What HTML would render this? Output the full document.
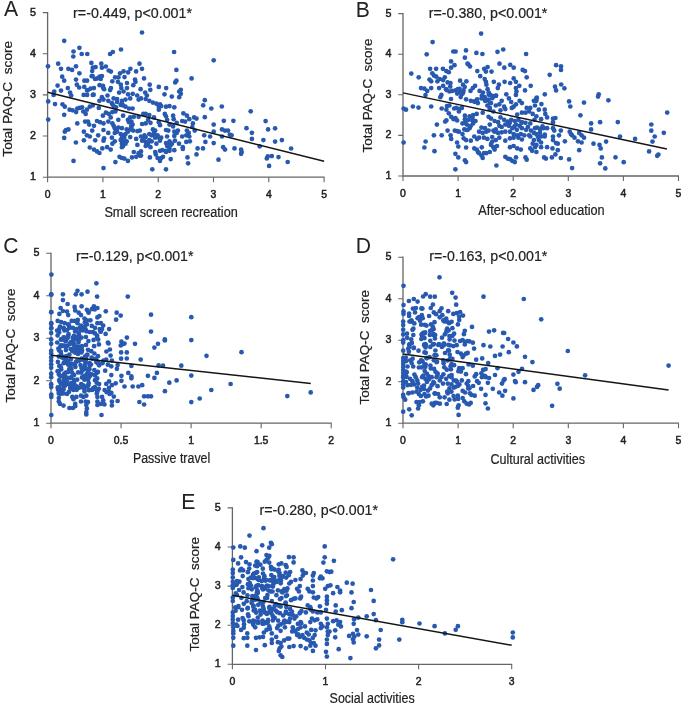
<!DOCTYPE html>
<html><head><meta charset="utf-8"><style>
html,body{margin:0;padding:0;background:#fff;}
svg{display:block;font-family:"Liberation Sans", sans-serif;will-change:transform;}
</style></head><body>
<svg width="685" height="705" viewBox="0 0 685 705">
<rect width="685" height="705" fill="#fff"/>
<g fill="#222"><path d="M47.60 12.00V177.70M47.10 177.20H324.60" stroke="#666" stroke-width="1.3" fill="none"/>
<path d="M42.80 177.20H47.60M42.80 136.05H47.60M42.80 94.90H47.60M42.80 53.75H47.60M42.80 12.60H47.60M47.60 177.20V182.20M102.90 177.20V182.20M158.20 177.20V182.20M213.50 177.20V182.20M268.80 177.20V182.20M324.10 177.20V182.20" stroke="#666" stroke-width="1.1" fill="none"/>
<text transform="translate(36.00 180.10) scale(0.95 1)" text-anchor="end" font-size="11.3" stroke="#222" stroke-width="0.5">1</text>
<text transform="translate(36.00 138.95) scale(0.95 1)" text-anchor="end" font-size="11.3" stroke="#222" stroke-width="0.5">2</text>
<text transform="translate(36.00 97.80) scale(0.95 1)" text-anchor="end" font-size="11.3" stroke="#222" stroke-width="0.5">3</text>
<text transform="translate(36.00 56.65) scale(0.95 1)" text-anchor="end" font-size="11.3" stroke="#222" stroke-width="0.5">4</text>
<text transform="translate(36.00 15.50) scale(0.95 1)" text-anchor="end" font-size="11.3" stroke="#222" stroke-width="0.5">5</text>
<text transform="translate(47.60 197.70) scale(0.95 1)" text-anchor="middle" font-size="11" stroke="#222" stroke-width="0.5">0</text>
<text transform="translate(102.90 197.70) scale(0.95 1)" text-anchor="middle" font-size="11" stroke="#222" stroke-width="0.5">1</text>
<text transform="translate(158.20 197.70) scale(0.95 1)" text-anchor="middle" font-size="11" stroke="#222" stroke-width="0.5">2</text>
<text transform="translate(213.50 197.70) scale(0.95 1)" text-anchor="middle" font-size="11" stroke="#222" stroke-width="0.5">3</text>
<text transform="translate(268.80 197.70) scale(0.95 1)" text-anchor="middle" font-size="11" stroke="#222" stroke-width="0.5">4</text>
<text transform="translate(324.10 197.70) scale(0.95 1)" text-anchor="middle" font-size="11" stroke="#222" stroke-width="0.5">5</text>
<circle fill="#2759b0" cx="64.2" cy="40.8" r="2.35"/>
<circle fill="#2759b0" cx="79.4" cy="47.8" r="2.35"/>
<circle fill="#2759b0" cx="73.5" cy="51.5" r="2.35"/>
<circle fill="#2759b0" cx="73.3" cy="56.5" r="2.35"/>
<circle fill="#2759b0" cx="81.7" cy="54.0" r="2.35"/>
<circle fill="#2759b0" cx="87.3" cy="54.0" r="2.35"/>
<circle fill="#2759b0" cx="110.1" cy="54.0" r="2.35"/>
<circle fill="#2759b0" cx="48.0" cy="66.3" r="2.35"/>
<circle fill="#2759b0" cx="58.2" cy="63.7" r="2.35"/>
<circle fill="#2759b0" cx="61.0" cy="68.8" r="2.35"/>
<circle fill="#2759b0" cx="68.4" cy="68.8" r="2.35"/>
<circle fill="#2759b0" cx="72.1" cy="69.9" r="2.35"/>
<circle fill="#2759b0" cx="76.0" cy="66.3" r="2.35"/>
<circle fill="#2759b0" cx="79.4" cy="73.3" r="2.35"/>
<circle fill="#2759b0" cx="91.4" cy="62.9" r="2.35"/>
<circle fill="#2759b0" cx="92.8" cy="67.7" r="2.35"/>
<circle fill="#2759b0" cx="95.6" cy="67.1" r="2.35"/>
<circle fill="#2759b0" cx="92.2" cy="71.1" r="2.35"/>
<circle fill="#2759b0" cx="101.3" cy="63.7" r="2.35"/>
<circle fill="#2759b0" cx="101.9" cy="67.7" r="2.35"/>
<circle fill="#2759b0" cx="105.8" cy="66.5" r="2.35"/>
<circle fill="#2759b0" cx="108.7" cy="70.5" r="2.35"/>
<circle fill="#2759b0" cx="110.9" cy="71.6" r="2.35"/>
<circle fill="#2759b0" cx="62.2" cy="76.7" r="2.35"/>
<circle fill="#2759b0" cx="64.2" cy="80.7" r="2.35"/>
<circle fill="#2759b0" cx="76.0" cy="79.6" r="2.35"/>
<circle fill="#2759b0" cx="87.1" cy="80.7" r="2.35"/>
<circle fill="#2759b0" cx="91.7" cy="76.2" r="2.35"/>
<circle fill="#2759b0" cx="95.1" cy="79.0" r="2.35"/>
<circle fill="#2759b0" cx="99.6" cy="76.7" r="2.35"/>
<circle fill="#2759b0" cx="100.7" cy="79.0" r="2.35"/>
<circle fill="#2759b0" cx="57.6" cy="85.6" r="2.35"/>
<circle fill="#2759b0" cx="61.0" cy="90.6" r="2.35"/>
<circle fill="#2759b0" cx="67.8" cy="88.1" r="2.35"/>
<circle fill="#2759b0" cx="70.1" cy="92.6" r="2.35"/>
<circle fill="#2759b0" cx="71.2" cy="95.5" r="2.35"/>
<circle fill="#2759b0" cx="76.9" cy="84.7" r="2.35"/>
<circle fill="#2759b0" cx="79.2" cy="87.5" r="2.35"/>
<circle fill="#2759b0" cx="84.3" cy="86.9" r="2.35"/>
<circle fill="#2759b0" cx="87.1" cy="90.4" r="2.35"/>
<circle fill="#2759b0" cx="90.5" cy="88.7" r="2.35"/>
<circle fill="#2759b0" cx="93.9" cy="88.1" r="2.35"/>
<circle fill="#2759b0" cx="99.6" cy="85.2" r="2.35"/>
<circle fill="#2759b0" cx="103.0" cy="85.8" r="2.35"/>
<circle fill="#2759b0" cx="104.1" cy="89.2" r="2.35"/>
<circle fill="#2759b0" cx="110.9" cy="88.1" r="2.35"/>
<circle fill="#2759b0" cx="54.2" cy="91.5" r="2.35"/>
<circle fill="#2759b0" cx="53.6" cy="94.9" r="2.35"/>
<circle fill="#2759b0" cx="83.7" cy="94.9" r="2.35"/>
<circle fill="#2759b0" cx="87.1" cy="94.9" r="2.35"/>
<circle fill="#2759b0" cx="92.8" cy="94.9" r="2.35"/>
<circle fill="#2759b0" cx="101.9" cy="97.2" r="2.35"/>
<circle fill="#2759b0" cx="107.5" cy="95.5" r="2.35"/>
<circle fill="#2759b0" cx="142.0" cy="32.5" r="2.35"/>
<circle fill="#2759b0" cx="121.0" cy="49.5" r="2.35"/>
<circle fill="#2759b0" cx="112.8" cy="52.0" r="2.35"/>
<circle fill="#2759b0" cx="174.1" cy="52.0" r="2.35"/>
<circle fill="#2759b0" cx="139.5" cy="63.7" r="2.35"/>
<circle fill="#2759b0" cx="142.0" cy="68.8" r="2.35"/>
<circle fill="#2759b0" cx="130.4" cy="68.8" r="2.35"/>
<circle fill="#2759b0" cx="136.1" cy="71.4" r="2.35"/>
<circle fill="#2759b0" cx="128.1" cy="72.4" r="2.35"/>
<circle fill="#2759b0" cx="123.6" cy="71.3" r="2.35"/>
<circle fill="#2759b0" cx="120.0" cy="73.3" r="2.35"/>
<circle fill="#2759b0" cx="115.1" cy="77.3" r="2.35"/>
<circle fill="#2759b0" cx="118.5" cy="77.3" r="2.35"/>
<circle fill="#2759b0" cx="124.5" cy="77.1" r="2.35"/>
<circle fill="#2759b0" cx="112.3" cy="81.3" r="2.35"/>
<circle fill="#2759b0" cx="117.9" cy="81.8" r="2.35"/>
<circle fill="#2759b0" cx="120.8" cy="84.7" r="2.35"/>
<circle fill="#2759b0" cx="127.0" cy="83.0" r="2.35"/>
<circle fill="#2759b0" cx="135.0" cy="79.6" r="2.35"/>
<circle fill="#2759b0" cx="135.5" cy="81.8" r="2.35"/>
<circle fill="#2759b0" cx="133.3" cy="85.2" r="2.35"/>
<circle fill="#2759b0" cx="144.0" cy="78.4" r="2.35"/>
<circle fill="#2759b0" cx="149.7" cy="84.7" r="2.35"/>
<circle fill="#2759b0" cx="121.3" cy="88.1" r="2.35"/>
<circle fill="#2759b0" cx="127.0" cy="88.1" r="2.35"/>
<circle fill="#2759b0" cx="140.6" cy="89.2" r="2.35"/>
<circle fill="#2759b0" cx="150.3" cy="89.8" r="2.35"/>
<circle fill="#2759b0" cx="158.8" cy="86.9" r="2.35"/>
<circle fill="#2759b0" cx="166.2" cy="88.1" r="2.35"/>
<circle fill="#2759b0" cx="176.4" cy="69.9" r="2.35"/>
<circle fill="#2759b0" cx="176.4" cy="80.7" r="2.35"/>
<circle fill="#2759b0" cx="175.2" cy="82.4" r="2.35"/>
<circle fill="#2759b0" cx="119.1" cy="92.6" r="2.35"/>
<circle fill="#2759b0" cx="123.6" cy="91.5" r="2.35"/>
<circle fill="#2759b0" cx="128.1" cy="94.3" r="2.35"/>
<circle fill="#2759b0" cx="132.7" cy="93.8" r="2.35"/>
<circle fill="#2759b0" cx="137.2" cy="95.5" r="2.35"/>
<circle fill="#2759b0" cx="145.2" cy="92.6" r="2.35"/>
<circle fill="#2759b0" cx="146.9" cy="95.5" r="2.35"/>
<circle fill="#2759b0" cx="164.5" cy="94.3" r="2.35"/>
<circle fill="#2759b0" cx="171.8" cy="96.6" r="2.35"/>
<circle fill="#2759b0" cx="179.2" cy="91.5" r="2.35"/>
<circle fill="#2759b0" cx="179.2" cy="97.2" r="2.35"/>
<circle fill="#2759b0" cx="213.7" cy="60.3" r="2.35"/>
<circle fill="#2759b0" cx="191.6" cy="78.4" r="2.35"/>
<circle fill="#2759b0" cx="180.8" cy="89.8" r="2.35"/>
<circle fill="#2759b0" cx="180.8" cy="93.8" r="2.35"/>
<circle fill="#2759b0" cx="48.2" cy="101.4" r="2.35"/>
<circle fill="#2759b0" cx="55.0" cy="104.1" r="2.35"/>
<circle fill="#2759b0" cx="62.5" cy="104.3" r="2.35"/>
<circle fill="#2759b0" cx="64.8" cy="106.7" r="2.35"/>
<circle fill="#2759b0" cx="69.6" cy="109.7" r="2.35"/>
<circle fill="#2759b0" cx="72.6" cy="110.3" r="2.35"/>
<circle fill="#2759b0" cx="77.3" cy="108.5" r="2.35"/>
<circle fill="#2759b0" cx="79.7" cy="107.9" r="2.35"/>
<circle fill="#2759b0" cx="82.1" cy="107.3" r="2.35"/>
<circle fill="#2759b0" cx="76.1" cy="112.1" r="2.35"/>
<circle fill="#2759b0" cx="83.3" cy="111.5" r="2.35"/>
<circle fill="#2759b0" cx="85.7" cy="113.9" r="2.35"/>
<circle fill="#2759b0" cx="86.9" cy="109.7" r="2.35"/>
<circle fill="#2759b0" cx="89.8" cy="106.7" r="2.35"/>
<circle fill="#2759b0" cx="92.8" cy="105.5" r="2.35"/>
<circle fill="#2759b0" cx="98.8" cy="107.9" r="2.35"/>
<circle fill="#2759b0" cx="99.4" cy="100.8" r="2.35"/>
<circle fill="#2759b0" cx="103.5" cy="99.6" r="2.35"/>
<circle fill="#2759b0" cx="108.3" cy="100.8" r="2.35"/>
<circle fill="#2759b0" cx="111.9" cy="103.2" r="2.35"/>
<circle fill="#2759b0" cx="64.2" cy="114.8" r="2.35"/>
<circle fill="#2759b0" cx="48.2" cy="119.6" r="2.35"/>
<circle fill="#2759b0" cx="77.3" cy="123.4" r="2.35"/>
<circle fill="#2759b0" cx="85.1" cy="121.6" r="2.35"/>
<circle fill="#2759b0" cx="88.0" cy="121.6" r="2.35"/>
<circle fill="#2759b0" cx="89.2" cy="124.6" r="2.35"/>
<circle fill="#2759b0" cx="94.0" cy="125.8" r="2.35"/>
<circle fill="#2759b0" cx="97.0" cy="121.0" r="2.35"/>
<circle fill="#2759b0" cx="100.0" cy="122.2" r="2.35"/>
<circle fill="#2759b0" cx="103.5" cy="123.4" r="2.35"/>
<circle fill="#2759b0" cx="102.9" cy="115.7" r="2.35"/>
<circle fill="#2759b0" cx="105.9" cy="112.7" r="2.35"/>
<circle fill="#2759b0" cx="108.9" cy="113.9" r="2.35"/>
<circle fill="#2759b0" cx="110.7" cy="117.4" r="2.35"/>
<circle fill="#2759b0" cx="108.3" cy="121.6" r="2.35"/>
<circle fill="#2759b0" cx="66.0" cy="130.0" r="2.35"/>
<circle fill="#2759b0" cx="68.4" cy="129.4" r="2.35"/>
<circle fill="#2759b0" cx="64.8" cy="131.7" r="2.35"/>
<circle fill="#2759b0" cx="83.9" cy="131.7" r="2.35"/>
<circle fill="#2759b0" cx="86.9" cy="135.3" r="2.35"/>
<circle fill="#2759b0" cx="89.8" cy="136.5" r="2.35"/>
<circle fill="#2759b0" cx="92.2" cy="130.6" r="2.35"/>
<circle fill="#2759b0" cx="98.2" cy="135.3" r="2.35"/>
<circle fill="#2759b0" cx="103.5" cy="130.0" r="2.35"/>
<circle fill="#2759b0" cx="104.1" cy="138.3" r="2.35"/>
<circle fill="#2759b0" cx="108.3" cy="132.9" r="2.35"/>
<circle fill="#2759b0" cx="111.9" cy="137.7" r="2.35"/>
<circle fill="#2759b0" cx="64.2" cy="137.9" r="2.35"/>
<circle fill="#2759b0" cx="83.9" cy="140.3" r="2.35"/>
<circle fill="#2759b0" cx="95.2" cy="140.3" r="2.35"/>
<circle fill="#2759b0" cx="103.5" cy="140.7" r="2.35"/>
<circle fill="#2759b0" cx="75.9" cy="142.5" r="2.35"/>
<circle fill="#2759b0" cx="89.8" cy="147.5" r="2.35"/>
<circle fill="#2759b0" cx="94.0" cy="149.6" r="2.35"/>
<circle fill="#2759b0" cx="97.0" cy="151.4" r="2.35"/>
<circle fill="#2759b0" cx="99.4" cy="153.0" r="2.35"/>
<circle fill="#2759b0" cx="102.3" cy="148.4" r="2.35"/>
<circle fill="#2759b0" cx="107.1" cy="147.2" r="2.35"/>
<circle fill="#2759b0" cx="110.7" cy="149.6" r="2.35"/>
<circle fill="#2759b0" cx="73.5" cy="160.9" r="2.35"/>
<circle fill="#2759b0" cx="103.5" cy="168.1" r="2.35"/>
<circle fill="#2759b0" cx="113.6" cy="98.4" r="2.35"/>
<circle fill="#2759b0" cx="117.1" cy="99.0" r="2.35"/>
<circle fill="#2759b0" cx="121.9" cy="100.8" r="2.35"/>
<circle fill="#2759b0" cx="125.5" cy="99.6" r="2.35"/>
<circle fill="#2759b0" cx="130.2" cy="98.4" r="2.35"/>
<circle fill="#2759b0" cx="138.6" cy="99.6" r="2.35"/>
<circle fill="#2759b0" cx="141.0" cy="98.4" r="2.35"/>
<circle fill="#2759b0" cx="145.7" cy="99.0" r="2.35"/>
<circle fill="#2759b0" cx="149.3" cy="100.8" r="2.35"/>
<circle fill="#2759b0" cx="152.9" cy="102.6" r="2.35"/>
<circle fill="#2759b0" cx="156.4" cy="103.7" r="2.35"/>
<circle fill="#2759b0" cx="160.0" cy="104.3" r="2.35"/>
<circle fill="#2759b0" cx="112.4" cy="104.3" r="2.35"/>
<circle fill="#2759b0" cx="113.6" cy="106.1" r="2.35"/>
<circle fill="#2759b0" cx="116.0" cy="107.3" r="2.35"/>
<circle fill="#2759b0" cx="120.7" cy="104.9" r="2.35"/>
<circle fill="#2759b0" cx="123.1" cy="105.5" r="2.35"/>
<circle fill="#2759b0" cx="125.5" cy="106.7" r="2.35"/>
<circle fill="#2759b0" cx="129.0" cy="108.5" r="2.35"/>
<circle fill="#2759b0" cx="132.6" cy="108.5" r="2.35"/>
<circle fill="#2759b0" cx="158.8" cy="106.7" r="2.35"/>
<circle fill="#2759b0" cx="161.2" cy="106.1" r="2.35"/>
<circle fill="#2759b0" cx="166.0" cy="106.7" r="2.35"/>
<circle fill="#2759b0" cx="169.5" cy="106.1" r="2.35"/>
<circle fill="#2759b0" cx="174.3" cy="107.3" r="2.35"/>
<circle fill="#2759b0" cx="158.8" cy="109.7" r="2.35"/>
<circle fill="#2759b0" cx="112.4" cy="112.1" r="2.35"/>
<circle fill="#2759b0" cx="115.4" cy="111.5" r="2.35"/>
<circle fill="#2759b0" cx="123.1" cy="115.7" r="2.35"/>
<circle fill="#2759b0" cx="130.2" cy="117.4" r="2.35"/>
<circle fill="#2759b0" cx="133.8" cy="116.8" r="2.35"/>
<circle fill="#2759b0" cx="138.6" cy="116.8" r="2.35"/>
<circle fill="#2759b0" cx="143.3" cy="113.9" r="2.35"/>
<circle fill="#2759b0" cx="145.7" cy="113.9" r="2.35"/>
<circle fill="#2759b0" cx="149.3" cy="115.1" r="2.35"/>
<circle fill="#2759b0" cx="154.0" cy="117.4" r="2.35"/>
<circle fill="#2759b0" cx="164.8" cy="113.9" r="2.35"/>
<circle fill="#2759b0" cx="166.0" cy="116.3" r="2.35"/>
<circle fill="#2759b0" cx="173.1" cy="115.7" r="2.35"/>
<circle fill="#2759b0" cx="173.7" cy="119.2" r="2.35"/>
<circle fill="#2759b0" cx="118.3" cy="119.8" r="2.35"/>
<circle fill="#2759b0" cx="127.9" cy="119.8" r="2.35"/>
<circle fill="#2759b0" cx="131.4" cy="121.6" r="2.35"/>
<circle fill="#2759b0" cx="132.6" cy="124.6" r="2.35"/>
<circle fill="#2759b0" cx="142.1" cy="124.0" r="2.35"/>
<circle fill="#2759b0" cx="145.7" cy="123.4" r="2.35"/>
<circle fill="#2759b0" cx="148.1" cy="119.8" r="2.35"/>
<circle fill="#2759b0" cx="150.5" cy="122.8" r="2.35"/>
<circle fill="#2759b0" cx="158.8" cy="122.2" r="2.35"/>
<circle fill="#2759b0" cx="160.0" cy="125.2" r="2.35"/>
<circle fill="#2759b0" cx="169.5" cy="124.6" r="2.35"/>
<circle fill="#2759b0" cx="173.1" cy="126.4" r="2.35"/>
<circle fill="#2759b0" cx="176.7" cy="122.8" r="2.35"/>
<circle fill="#2759b0" cx="167.1" cy="119.8" r="2.35"/>
<circle fill="#2759b0" cx="113.6" cy="125.8" r="2.35"/>
<circle fill="#2759b0" cx="114.8" cy="128.2" r="2.35"/>
<circle fill="#2759b0" cx="118.3" cy="127.6" r="2.35"/>
<circle fill="#2759b0" cx="121.9" cy="128.2" r="2.35"/>
<circle fill="#2759b0" cx="126.7" cy="129.4" r="2.35"/>
<circle fill="#2759b0" cx="131.4" cy="127.0" r="2.35"/>
<circle fill="#2759b0" cx="133.2" cy="130.6" r="2.35"/>
<circle fill="#2759b0" cx="137.4" cy="131.1" r="2.35"/>
<circle fill="#2759b0" cx="139.8" cy="130.6" r="2.35"/>
<circle fill="#2759b0" cx="152.9" cy="129.4" r="2.35"/>
<circle fill="#2759b0" cx="155.2" cy="130.6" r="2.35"/>
<circle fill="#2759b0" cx="166.0" cy="130.0" r="2.35"/>
<circle fill="#2759b0" cx="168.3" cy="130.6" r="2.35"/>
<circle fill="#2759b0" cx="174.3" cy="131.7" r="2.35"/>
<circle fill="#2759b0" cx="177.9" cy="130.6" r="2.35"/>
<circle fill="#2759b0" cx="114.8" cy="132.9" r="2.35"/>
<circle fill="#2759b0" cx="120.7" cy="134.1" r="2.35"/>
<circle fill="#2759b0" cx="123.1" cy="135.3" r="2.35"/>
<circle fill="#2759b0" cx="125.5" cy="134.1" r="2.35"/>
<circle fill="#2759b0" cx="130.2" cy="137.1" r="2.35"/>
<circle fill="#2759b0" cx="136.2" cy="138.9" r="2.35"/>
<circle fill="#2759b0" cx="141.0" cy="136.5" r="2.35"/>
<circle fill="#2759b0" cx="145.7" cy="137.1" r="2.35"/>
<circle fill="#2759b0" cx="149.3" cy="134.1" r="2.35"/>
<circle fill="#2759b0" cx="151.7" cy="135.3" r="2.35"/>
<circle fill="#2759b0" cx="155.2" cy="135.3" r="2.35"/>
<circle fill="#2759b0" cx="157.6" cy="137.1" r="2.35"/>
<circle fill="#2759b0" cx="161.2" cy="137.7" r="2.35"/>
<circle fill="#2759b0" cx="167.1" cy="136.5" r="2.35"/>
<circle fill="#2759b0" cx="174.3" cy="135.9" r="2.35"/>
<circle fill="#2759b0" cx="176.7" cy="132.9" r="2.35"/>
<circle fill="#2759b0" cx="114.8" cy="141.3" r="2.35"/>
<circle fill="#2759b0" cx="112.4" cy="143.7" r="2.35"/>
<circle fill="#2759b0" cx="120.7" cy="140.1" r="2.35"/>
<circle fill="#2759b0" cx="124.3" cy="141.3" r="2.35"/>
<circle fill="#2759b0" cx="126.7" cy="141.3" r="2.35"/>
<circle fill="#2759b0" cx="121.9" cy="143.7" r="2.35"/>
<circle fill="#2759b0" cx="137.4" cy="144.9" r="2.35"/>
<circle fill="#2759b0" cx="142.1" cy="140.7" r="2.35"/>
<circle fill="#2759b0" cx="145.7" cy="141.9" r="2.35"/>
<circle fill="#2759b0" cx="148.1" cy="143.7" r="2.35"/>
<circle fill="#2759b0" cx="151.7" cy="141.3" r="2.35"/>
<circle fill="#2759b0" cx="156.4" cy="143.7" r="2.35"/>
<circle fill="#2759b0" cx="160.0" cy="140.7" r="2.35"/>
<circle fill="#2759b0" cx="166.0" cy="143.1" r="2.35"/>
<circle fill="#2759b0" cx="169.5" cy="141.3" r="2.35"/>
<circle fill="#2759b0" cx="170.7" cy="144.9" r="2.35"/>
<circle fill="#2759b0" cx="174.9" cy="140.7" r="2.35"/>
<circle fill="#2759b0" cx="179.0" cy="143.7" r="2.35"/>
<circle fill="#2759b0" cx="121.9" cy="147.2" r="2.35"/>
<circle fill="#2759b0" cx="145.7" cy="146.0" r="2.35"/>
<circle fill="#2759b0" cx="150.5" cy="147.2" r="2.35"/>
<circle fill="#2759b0" cx="155.2" cy="152.0" r="2.35"/>
<circle fill="#2759b0" cx="160.0" cy="150.8" r="2.35"/>
<circle fill="#2759b0" cx="162.4" cy="150.2" r="2.35"/>
<circle fill="#2759b0" cx="166.0" cy="150.8" r="2.35"/>
<circle fill="#2759b0" cx="169.5" cy="148.4" r="2.35"/>
<circle fill="#2759b0" cx="174.3" cy="150.2" r="2.35"/>
<circle fill="#2759b0" cx="133.8" cy="152.0" r="2.35"/>
<circle fill="#2759b0" cx="138.6" cy="153.2" r="2.35"/>
<circle fill="#2759b0" cx="141.0" cy="151.4" r="2.35"/>
<circle fill="#2759b0" cx="139.8" cy="155.6" r="2.35"/>
<circle fill="#2759b0" cx="119.5" cy="156.8" r="2.35"/>
<circle fill="#2759b0" cx="121.9" cy="158.0" r="2.35"/>
<circle fill="#2759b0" cx="124.3" cy="158.6" r="2.35"/>
<circle fill="#2759b0" cx="132.0" cy="157.4" r="2.35"/>
<circle fill="#2759b0" cx="136.2" cy="156.8" r="2.35"/>
<circle fill="#2759b0" cx="141.0" cy="155.6" r="2.35"/>
<circle fill="#2759b0" cx="149.9" cy="157.4" r="2.35"/>
<circle fill="#2759b0" cx="155.8" cy="154.4" r="2.35"/>
<circle fill="#2759b0" cx="157.6" cy="158.0" r="2.35"/>
<circle fill="#2759b0" cx="161.2" cy="158.0" r="2.35"/>
<circle fill="#2759b0" cx="163.0" cy="156.8" r="2.35"/>
<circle fill="#2759b0" cx="160.0" cy="160.9" r="2.35"/>
<circle fill="#2759b0" cx="170.7" cy="159.1" r="2.35"/>
<circle fill="#2759b0" cx="115.4" cy="162.1" r="2.35"/>
<circle fill="#2759b0" cx="127.9" cy="160.9" r="2.35"/>
<circle fill="#2759b0" cx="152.3" cy="169.3" r="2.35"/>
<circle fill="#2759b0" cx="166.0" cy="169.3" r="2.35"/>
<circle fill="#2759b0" cx="204.8" cy="100.2" r="2.35"/>
<circle fill="#2759b0" cx="203.2" cy="105.3" r="2.35"/>
<circle fill="#2759b0" cx="211.3" cy="108.5" r="2.35"/>
<circle fill="#2759b0" cx="221.8" cy="106.5" r="2.35"/>
<circle fill="#2759b0" cx="183.4" cy="113.3" r="2.35"/>
<circle fill="#2759b0" cx="186.9" cy="115.7" r="2.35"/>
<circle fill="#2759b0" cx="189.3" cy="119.2" r="2.35"/>
<circle fill="#2759b0" cx="194.1" cy="117.4" r="2.35"/>
<circle fill="#2759b0" cx="196.5" cy="118.6" r="2.35"/>
<circle fill="#2759b0" cx="204.8" cy="117.2" r="2.35"/>
<circle fill="#2759b0" cx="182.2" cy="121.0" r="2.35"/>
<circle fill="#2759b0" cx="185.1" cy="121.6" r="2.35"/>
<circle fill="#2759b0" cx="192.9" cy="123.4" r="2.35"/>
<circle fill="#2759b0" cx="192.3" cy="127.0" r="2.35"/>
<circle fill="#2759b0" cx="194.7" cy="130.6" r="2.35"/>
<circle fill="#2759b0" cx="213.7" cy="124.6" r="2.35"/>
<circle fill="#2759b0" cx="223.8" cy="120.8" r="2.35"/>
<circle fill="#2759b0" cx="233.4" cy="120.8" r="2.35"/>
<circle fill="#2759b0" cx="246.5" cy="128.2" r="2.35"/>
<circle fill="#2759b0" cx="186.9" cy="130.6" r="2.35"/>
<circle fill="#2759b0" cx="188.7" cy="132.9" r="2.35"/>
<circle fill="#2759b0" cx="186.3" cy="135.3" r="2.35"/>
<circle fill="#2759b0" cx="182.2" cy="136.5" r="2.35"/>
<circle fill="#2759b0" cx="189.3" cy="136.5" r="2.35"/>
<circle fill="#2759b0" cx="189.9" cy="141.3" r="2.35"/>
<circle fill="#2759b0" cx="186.3" cy="141.9" r="2.35"/>
<circle fill="#2759b0" cx="182.8" cy="147.2" r="2.35"/>
<circle fill="#2759b0" cx="182.8" cy="149.0" r="2.35"/>
<circle fill="#2759b0" cx="204.2" cy="135.3" r="2.35"/>
<circle fill="#2759b0" cx="210.1" cy="136.5" r="2.35"/>
<circle fill="#2759b0" cx="213.7" cy="131.7" r="2.35"/>
<circle fill="#2759b0" cx="222.0" cy="129.4" r="2.35"/>
<circle fill="#2759b0" cx="225.0" cy="130.6" r="2.35"/>
<circle fill="#2759b0" cx="228.0" cy="130.6" r="2.35"/>
<circle fill="#2759b0" cx="222.0" cy="136.5" r="2.35"/>
<circle fill="#2759b0" cx="229.8" cy="134.7" r="2.35"/>
<circle fill="#2759b0" cx="231.6" cy="135.3" r="2.35"/>
<circle fill="#2759b0" cx="205.4" cy="141.9" r="2.35"/>
<circle fill="#2759b0" cx="213.7" cy="143.1" r="2.35"/>
<circle fill="#2759b0" cx="223.2" cy="147.2" r="2.35"/>
<circle fill="#2759b0" cx="225.0" cy="149.6" r="2.35"/>
<circle fill="#2759b0" cx="234.5" cy="148.4" r="2.35"/>
<circle fill="#2759b0" cx="241.1" cy="149.6" r="2.35"/>
<circle fill="#2759b0" cx="241.7" cy="152.0" r="2.35"/>
<circle fill="#2759b0" cx="241.1" cy="153.8" r="2.35"/>
<circle fill="#2759b0" cx="197.6" cy="148.4" r="2.35"/>
<circle fill="#2759b0" cx="203.0" cy="148.4" r="2.35"/>
<circle fill="#2759b0" cx="196.5" cy="154.4" r="2.35"/>
<circle fill="#2759b0" cx="187.5" cy="157.4" r="2.35"/>
<circle fill="#2759b0" cx="188.1" cy="163.3" r="2.35"/>
<circle fill="#2759b0" cx="218.5" cy="159.7" r="2.35"/>
<circle fill="#2759b0" cx="250.7" cy="111.3" r="2.35"/>
<circle fill="#2759b0" cx="265.6" cy="121.1" r="2.35"/>
<circle fill="#2759b0" cx="251.9" cy="132.8" r="2.35"/>
<circle fill="#2759b0" cx="268.1" cy="129.4" r="2.35"/>
<circle fill="#2759b0" cx="275.1" cy="128.3" r="2.35"/>
<circle fill="#2759b0" cx="251.9" cy="138.9" r="2.35"/>
<circle fill="#2759b0" cx="263.4" cy="140.1" r="2.35"/>
<circle fill="#2759b0" cx="275.1" cy="141.6" r="2.35"/>
<circle fill="#2759b0" cx="281.9" cy="140.1" r="2.35"/>
<circle fill="#2759b0" cx="259.7" cy="146.3" r="2.35"/>
<circle fill="#2759b0" cx="291.1" cy="148.5" r="2.35"/>
<circle fill="#2759b0" cx="267.8" cy="156.3" r="2.35"/>
<circle fill="#2759b0" cx="271.8" cy="156.1" r="2.35"/>
<circle fill="#2759b0" cx="266.8" cy="158.5" r="2.35"/>
<circle fill="#2759b0" cx="278.5" cy="157.1" r="2.35"/>
<circle fill="#2759b0" cx="287.7" cy="162.0" r="2.35"/>
<circle fill="#2759b0" cx="269.1" cy="165.9" r="2.35"/>
<circle fill="#2759b0" cx="112.4" cy="123.4" r="2.35"/>
<circle fill="#2759b0" cx="116.0" cy="130.6" r="2.35"/>
<circle fill="#2759b0" cx="117.1" cy="131.7" r="2.35"/>
<circle fill="#2759b0" cx="121.9" cy="137.7" r="2.35"/>
<circle fill="#2759b0" cx="124.3" cy="137.7" r="2.35"/>
<circle fill="#2759b0" cx="125.5" cy="143.7" r="2.35"/>
<circle fill="#2759b0" cx="123.1" cy="146.0" r="2.35"/>
<circle fill="#2759b0" cx="127.9" cy="131.7" r="2.35"/>
<circle fill="#2759b0" cx="143.3" cy="138.9" r="2.35"/>
<circle fill="#2759b0" cx="146.9" cy="144.9" r="2.35"/>
<circle fill="#2759b0" cx="149.3" cy="140.1" r="2.35"/>
<circle fill="#2759b0" cx="144.5" cy="135.3" r="2.35"/>
<circle fill="#2759b0" cx="167.1" cy="146.0" r="2.35"/>
<circle fill="#2759b0" cx="169.5" cy="150.8" r="2.35"/>
<circle fill="#2759b0" cx="171.9" cy="143.7" r="2.35"/>
<circle fill="#2759b0" cx="166.0" cy="152.0" r="2.35"/>
<circle fill="#2759b0" cx="168.3" cy="144.9" r="2.35"/>
<circle fill="#2759b0" cx="154.0" cy="132.9" r="2.35"/>
<circle fill="#2759b0" cx="157.6" cy="135.3" r="2.35"/>
<circle fill="#2759b0" cx="155.2" cy="137.7" r="2.35"/>
<circle fill="#2759b0" cx="129.0" cy="122.2" r="2.35"/>
<circle fill="#2759b0" cx="131.4" cy="125.8" r="2.35"/>
<circle fill="#2759b0" cx="130.2" cy="129.4" r="2.35"/>
<circle fill="#2759b0" cx="117.1" cy="102.0" r="2.35"/>
<circle fill="#2759b0" cx="121.9" cy="103.2" r="2.35"/>
<circle fill="#2759b0" cx="92.6" cy="76.1" r="2.35"/>
<circle fill="#2759b0" cx="97.2" cy="78.4" r="2.35"/>
<circle fill="#2759b0" cx="101.9" cy="76.1" r="2.35"/>
<circle fill="#2759b0" cx="87.9" cy="90.1" r="2.35"/>
<circle fill="#2759b0" cx="93.7" cy="94.7" r="2.35"/>
<circle fill="#2759b0" cx="103.1" cy="87.7" r="2.35"/>
<circle fill="#2759b0" cx="110.1" cy="90.1" r="2.35"/>
<circle fill="#2759b0" cx="84.4" cy="80.7" r="2.35"/>
<line x1="47.60" y1="92.31" x2="324.10" y2="161.32" stroke="#151515" stroke-width="1.5"/>
<text transform="translate(4.00 15.70) scale(0.98 1)" font-size="21.6">A</text>
<text x="73.10" y="18.00" font-size="14.3" stroke="#222" stroke-width="0.2" textLength="118.90" lengthAdjust="spacingAndGlyphs">r=-0.449, p&lt;0.001*</text>
<text x="104.40" y="216.90" font-size="14" stroke="#222" stroke-width="0.2" textLength="133.40" lengthAdjust="spacingAndGlyphs" xml:space="preserve">Small screen recreation</text>
<text transform="translate(11.70 156.70) rotate(-90)" font-size="12.3" stroke="#222" stroke-width="0.2" textLength="115.90" lengthAdjust="spacingAndGlyphs" xml:space="preserve">Total PAQ-C  score</text></g>
<g fill="#222"><path d="M403.00 13.00V176.50M402.50 176.00H679.00" stroke="#666" stroke-width="1.3" fill="none"/>
<path d="M398.20 176.00H403.00M398.20 135.40H403.00M398.20 94.80H403.00M398.20 54.20H403.00M398.20 13.60H403.00M403.00 176.00V181.00M458.10 176.00V181.00M513.20 176.00V181.00M568.30 176.00V181.00M623.40 176.00V181.00M678.50 176.00V181.00" stroke="#666" stroke-width="1.1" fill="none"/>
<text transform="translate(391.40 178.90) scale(0.95 1)" text-anchor="end" font-size="11.3" stroke="#222" stroke-width="0.5">1</text>
<text transform="translate(391.40 138.30) scale(0.95 1)" text-anchor="end" font-size="11.3" stroke="#222" stroke-width="0.5">2</text>
<text transform="translate(391.40 97.70) scale(0.95 1)" text-anchor="end" font-size="11.3" stroke="#222" stroke-width="0.5">3</text>
<text transform="translate(391.40 57.10) scale(0.95 1)" text-anchor="end" font-size="11.3" stroke="#222" stroke-width="0.5">4</text>
<text transform="translate(391.40 16.50) scale(0.95 1)" text-anchor="end" font-size="11.3" stroke="#222" stroke-width="0.5">5</text>
<text transform="translate(403.00 196.50) scale(0.95 1)" text-anchor="middle" font-size="11" stroke="#222" stroke-width="0.5">0</text>
<text transform="translate(458.10 196.50) scale(0.95 1)" text-anchor="middle" font-size="11" stroke="#222" stroke-width="0.5">1</text>
<text transform="translate(513.20 196.50) scale(0.95 1)" text-anchor="middle" font-size="11" stroke="#222" stroke-width="0.5">2</text>
<text transform="translate(568.30 196.50) scale(0.95 1)" text-anchor="middle" font-size="11" stroke="#222" stroke-width="0.5">3</text>
<text transform="translate(623.40 196.50) scale(0.95 1)" text-anchor="middle" font-size="11" stroke="#222" stroke-width="0.5">4</text>
<text transform="translate(678.50 196.50) scale(0.95 1)" text-anchor="middle" font-size="11" stroke="#222" stroke-width="0.5">5</text>
<circle fill="#2759b0" cx="432.6" cy="42.1" r="2.35"/>
<circle fill="#2759b0" cx="426.7" cy="54.3" r="2.35"/>
<circle fill="#2759b0" cx="453.3" cy="51.5" r="2.35"/>
<circle fill="#2759b0" cx="455.6" cy="51.5" r="2.35"/>
<circle fill="#2759b0" cx="466.0" cy="50.4" r="2.35"/>
<circle fill="#2759b0" cx="464.9" cy="57.7" r="2.35"/>
<circle fill="#2759b0" cx="467.5" cy="63.7" r="2.35"/>
<circle fill="#2759b0" cx="451.1" cy="61.4" r="2.35"/>
<circle fill="#2759b0" cx="454.5" cy="65.2" r="2.35"/>
<circle fill="#2759b0" cx="451.1" cy="67.7" r="2.35"/>
<circle fill="#2759b0" cx="430.1" cy="68.8" r="2.35"/>
<circle fill="#2759b0" cx="436.1" cy="68.8" r="2.35"/>
<circle fill="#2759b0" cx="442.9" cy="68.8" r="2.35"/>
<circle fill="#2759b0" cx="446.3" cy="71.1" r="2.35"/>
<circle fill="#2759b0" cx="448.8" cy="72.2" r="2.35"/>
<circle fill="#2759b0" cx="411.3" cy="73.6" r="2.35"/>
<circle fill="#2759b0" cx="418.7" cy="77.3" r="2.35"/>
<circle fill="#2759b0" cx="432.3" cy="73.3" r="2.35"/>
<circle fill="#2759b0" cx="434.0" cy="75.6" r="2.35"/>
<circle fill="#2759b0" cx="436.3" cy="76.7" r="2.35"/>
<circle fill="#2759b0" cx="437.4" cy="81.3" r="2.35"/>
<circle fill="#2759b0" cx="439.7" cy="79.0" r="2.35"/>
<circle fill="#2759b0" cx="444.8" cy="77.3" r="2.35"/>
<circle fill="#2759b0" cx="443.1" cy="80.1" r="2.35"/>
<circle fill="#2759b0" cx="429.5" cy="79.6" r="2.35"/>
<circle fill="#2759b0" cx="431.2" cy="81.3" r="2.35"/>
<circle fill="#2759b0" cx="447.6" cy="82.4" r="2.35"/>
<circle fill="#2759b0" cx="450.5" cy="83.0" r="2.35"/>
<circle fill="#2759b0" cx="460.1" cy="80.7" r="2.35"/>
<circle fill="#2759b0" cx="466.4" cy="81.3" r="2.35"/>
<circle fill="#2759b0" cx="463.0" cy="84.7" r="2.35"/>
<circle fill="#2759b0" cx="464.7" cy="87.0" r="2.35"/>
<circle fill="#2759b0" cx="421.0" cy="88.1" r="2.35"/>
<circle fill="#2759b0" cx="424.4" cy="88.7" r="2.35"/>
<circle fill="#2759b0" cx="427.2" cy="90.9" r="2.35"/>
<circle fill="#2759b0" cx="431.2" cy="88.1" r="2.35"/>
<circle fill="#2759b0" cx="439.1" cy="88.1" r="2.35"/>
<circle fill="#2759b0" cx="443.1" cy="85.8" r="2.35"/>
<circle fill="#2759b0" cx="446.0" cy="89.2" r="2.35"/>
<circle fill="#2759b0" cx="449.4" cy="91.5" r="2.35"/>
<circle fill="#2759b0" cx="452.2" cy="90.9" r="2.35"/>
<circle fill="#2759b0" cx="455.6" cy="90.4" r="2.35"/>
<circle fill="#2759b0" cx="457.9" cy="89.2" r="2.35"/>
<circle fill="#2759b0" cx="460.1" cy="92.6" r="2.35"/>
<circle fill="#2759b0" cx="462.4" cy="93.8" r="2.35"/>
<circle fill="#2759b0" cx="463.5" cy="90.4" r="2.35"/>
<circle fill="#2759b0" cx="425.5" cy="95.1" r="2.35"/>
<circle fill="#2759b0" cx="441.4" cy="94.9" r="2.35"/>
<circle fill="#2759b0" cx="440.3" cy="97.2" r="2.35"/>
<circle fill="#2759b0" cx="481.1" cy="33.6" r="2.35"/>
<circle fill="#2759b0" cx="476.4" cy="52.9" r="2.35"/>
<circle fill="#2759b0" cx="482.4" cy="54.0" r="2.35"/>
<circle fill="#2759b0" cx="497.5" cy="51.8" r="2.35"/>
<circle fill="#2759b0" cx="503.2" cy="49.5" r="2.35"/>
<circle fill="#2759b0" cx="526.1" cy="54.0" r="2.35"/>
<circle fill="#2759b0" cx="468.3" cy="64.3" r="2.35"/>
<circle fill="#2759b0" cx="470.0" cy="66.5" r="2.35"/>
<circle fill="#2759b0" cx="499.5" cy="63.7" r="2.35"/>
<circle fill="#2759b0" cx="504.3" cy="67.7" r="2.35"/>
<circle fill="#2759b0" cx="510.2" cy="64.8" r="2.35"/>
<circle fill="#2759b0" cx="513.7" cy="67.7" r="2.35"/>
<circle fill="#2759b0" cx="522.7" cy="69.9" r="2.35"/>
<circle fill="#2759b0" cx="525.0" cy="71.1" r="2.35"/>
<circle fill="#2759b0" cx="526.7" cy="77.3" r="2.35"/>
<circle fill="#2759b0" cx="484.2" cy="68.8" r="2.35"/>
<circle fill="#2759b0" cx="487.6" cy="67.1" r="2.35"/>
<circle fill="#2759b0" cx="485.9" cy="71.6" r="2.35"/>
<circle fill="#2759b0" cx="491.5" cy="71.6" r="2.35"/>
<circle fill="#2759b0" cx="477.3" cy="71.1" r="2.35"/>
<circle fill="#2759b0" cx="480.2" cy="76.2" r="2.35"/>
<circle fill="#2759b0" cx="484.7" cy="79.0" r="2.35"/>
<circle fill="#2759b0" cx="485.9" cy="81.8" r="2.35"/>
<circle fill="#2759b0" cx="486.4" cy="84.7" r="2.35"/>
<circle fill="#2759b0" cx="493.8" cy="81.8" r="2.35"/>
<circle fill="#2759b0" cx="498.9" cy="84.7" r="2.35"/>
<circle fill="#2759b0" cx="497.8" cy="88.1" r="2.35"/>
<circle fill="#2759b0" cx="504.6" cy="81.8" r="2.35"/>
<circle fill="#2759b0" cx="510.2" cy="83.0" r="2.35"/>
<circle fill="#2759b0" cx="513.7" cy="78.4" r="2.35"/>
<circle fill="#2759b0" cx="515.9" cy="81.8" r="2.35"/>
<circle fill="#2759b0" cx="519.3" cy="85.8" r="2.35"/>
<circle fill="#2759b0" cx="530.7" cy="85.8" r="2.35"/>
<circle fill="#2759b0" cx="525.0" cy="90.4" r="2.35"/>
<circle fill="#2759b0" cx="475.1" cy="85.8" r="2.35"/>
<circle fill="#2759b0" cx="472.8" cy="88.1" r="2.35"/>
<circle fill="#2759b0" cx="470.5" cy="90.9" r="2.35"/>
<circle fill="#2759b0" cx="479.6" cy="90.9" r="2.35"/>
<circle fill="#2759b0" cx="483.0" cy="92.6" r="2.35"/>
<circle fill="#2759b0" cx="487.6" cy="89.2" r="2.35"/>
<circle fill="#2759b0" cx="488.7" cy="92.6" r="2.35"/>
<circle fill="#2759b0" cx="490.4" cy="94.9" r="2.35"/>
<circle fill="#2759b0" cx="481.9" cy="95.5" r="2.35"/>
<circle fill="#2759b0" cx="484.7" cy="97.2" r="2.35"/>
<circle fill="#2759b0" cx="493.2" cy="96.0" r="2.35"/>
<circle fill="#2759b0" cx="496.1" cy="95.5" r="2.35"/>
<circle fill="#2759b0" cx="506.3" cy="94.3" r="2.35"/>
<circle fill="#2759b0" cx="515.9" cy="88.1" r="2.35"/>
<circle fill="#2759b0" cx="516.5" cy="91.5" r="2.35"/>
<circle fill="#2759b0" cx="515.9" cy="94.9" r="2.35"/>
<circle fill="#2759b0" cx="556.1" cy="65.2" r="2.35"/>
<circle fill="#2759b0" cx="561.0" cy="66.3" r="2.35"/>
<circle fill="#2759b0" cx="561.0" cy="69.9" r="2.35"/>
<circle fill="#2759b0" cx="549.7" cy="74.8" r="2.35"/>
<circle fill="#2759b0" cx="555.0" cy="86.7" r="2.35"/>
<circle fill="#2759b0" cx="556.1" cy="90.4" r="2.35"/>
<circle fill="#2759b0" cx="561.2" cy="84.5" r="2.35"/>
<circle fill="#2759b0" cx="564.4" cy="88.3" r="2.35"/>
<circle fill="#2759b0" cx="544.8" cy="94.3" r="2.35"/>
<circle fill="#2759b0" cx="536.8" cy="97.7" r="2.35"/>
<circle fill="#2759b0" cx="598.7" cy="94.3" r="2.35"/>
<circle fill="#2759b0" cx="598.1" cy="96.6" r="2.35"/>
<circle fill="#2759b0" cx="403.6" cy="108.5" r="2.35"/>
<circle fill="#2759b0" cx="406.0" cy="109.7" r="2.35"/>
<circle fill="#2759b0" cx="412.9" cy="106.5" r="2.35"/>
<circle fill="#2759b0" cx="418.5" cy="107.6" r="2.35"/>
<circle fill="#2759b0" cx="431.2" cy="106.5" r="2.35"/>
<circle fill="#2759b0" cx="441.7" cy="108.5" r="2.35"/>
<circle fill="#2759b0" cx="451.0" cy="99.0" r="2.35"/>
<circle fill="#2759b0" cx="466.1" cy="99.3" r="2.35"/>
<circle fill="#2759b0" cx="447.0" cy="106.1" r="2.35"/>
<circle fill="#2759b0" cx="449.4" cy="105.5" r="2.35"/>
<circle fill="#2759b0" cx="446.4" cy="109.7" r="2.35"/>
<circle fill="#2759b0" cx="448.8" cy="113.3" r="2.35"/>
<circle fill="#2759b0" cx="451.2" cy="116.8" r="2.35"/>
<circle fill="#2759b0" cx="453.6" cy="119.2" r="2.35"/>
<circle fill="#2759b0" cx="455.4" cy="118.0" r="2.35"/>
<circle fill="#2759b0" cx="457.1" cy="120.4" r="2.35"/>
<circle fill="#2759b0" cx="454.2" cy="108.5" r="2.35"/>
<circle fill="#2759b0" cx="456.5" cy="107.9" r="2.35"/>
<circle fill="#2759b0" cx="459.5" cy="109.1" r="2.35"/>
<circle fill="#2759b0" cx="461.9" cy="107.9" r="2.35"/>
<circle fill="#2759b0" cx="458.9" cy="111.5" r="2.35"/>
<circle fill="#2759b0" cx="464.9" cy="115.7" r="2.35"/>
<circle fill="#2759b0" cx="464.9" cy="119.2" r="2.35"/>
<circle fill="#2759b0" cx="462.5" cy="123.4" r="2.35"/>
<circle fill="#2759b0" cx="466.7" cy="124.6" r="2.35"/>
<circle fill="#2759b0" cx="464.3" cy="129.4" r="2.35"/>
<circle fill="#2759b0" cx="466.7" cy="130.0" r="2.35"/>
<circle fill="#2759b0" cx="436.9" cy="124.6" r="2.35"/>
<circle fill="#2759b0" cx="445.2" cy="121.6" r="2.35"/>
<circle fill="#2759b0" cx="446.4" cy="120.4" r="2.35"/>
<circle fill="#2759b0" cx="447.6" cy="130.6" r="2.35"/>
<circle fill="#2759b0" cx="454.8" cy="130.6" r="2.35"/>
<circle fill="#2759b0" cx="457.1" cy="131.1" r="2.35"/>
<circle fill="#2759b0" cx="458.9" cy="131.7" r="2.35"/>
<circle fill="#2759b0" cx="433.9" cy="135.3" r="2.35"/>
<circle fill="#2759b0" cx="441.7" cy="135.3" r="2.35"/>
<circle fill="#2759b0" cx="450.6" cy="135.3" r="2.35"/>
<circle fill="#2759b0" cx="451.2" cy="138.9" r="2.35"/>
<circle fill="#2759b0" cx="462.5" cy="134.1" r="2.35"/>
<circle fill="#2759b0" cx="463.7" cy="138.3" r="2.35"/>
<circle fill="#2759b0" cx="466.1" cy="140.1" r="2.35"/>
<circle fill="#2759b0" cx="403.6" cy="142.5" r="2.35"/>
<circle fill="#2759b0" cx="425.6" cy="141.5" r="2.35"/>
<circle fill="#2759b0" cx="424.4" cy="147.5" r="2.35"/>
<circle fill="#2759b0" cx="434.5" cy="151.2" r="2.35"/>
<circle fill="#2759b0" cx="457.1" cy="142.5" r="2.35"/>
<circle fill="#2759b0" cx="458.3" cy="146.6" r="2.35"/>
<circle fill="#2759b0" cx="466.1" cy="147.5" r="2.35"/>
<circle fill="#2759b0" cx="455.4" cy="153.8" r="2.35"/>
<circle fill="#2759b0" cx="458.3" cy="157.4" r="2.35"/>
<circle fill="#2759b0" cx="464.9" cy="160.3" r="2.35"/>
<circle fill="#2759b0" cx="466.1" cy="162.1" r="2.35"/>
<circle fill="#2759b0" cx="455.4" cy="169.3" r="2.35"/>
<circle fill="#2759b0" cx="470.8" cy="100.8" r="2.35"/>
<circle fill="#2759b0" cx="474.3" cy="101.4" r="2.35"/>
<circle fill="#2759b0" cx="477.9" cy="103.1" r="2.35"/>
<circle fill="#2759b0" cx="481.5" cy="98.4" r="2.35"/>
<circle fill="#2759b0" cx="485.0" cy="100.8" r="2.35"/>
<circle fill="#2759b0" cx="488.6" cy="99.6" r="2.35"/>
<circle fill="#2759b0" cx="491.0" cy="103.1" r="2.35"/>
<circle fill="#2759b0" cx="495.8" cy="105.5" r="2.35"/>
<circle fill="#2759b0" cx="499.3" cy="104.3" r="2.35"/>
<circle fill="#2759b0" cx="501.7" cy="100.8" r="2.35"/>
<circle fill="#2759b0" cx="504.1" cy="106.7" r="2.35"/>
<circle fill="#2759b0" cx="508.9" cy="98.4" r="2.35"/>
<circle fill="#2759b0" cx="511.2" cy="102.0" r="2.35"/>
<circle fill="#2759b0" cx="513.6" cy="106.7" r="2.35"/>
<circle fill="#2759b0" cx="516.0" cy="104.3" r="2.35"/>
<circle fill="#2759b0" cx="519.6" cy="100.8" r="2.35"/>
<circle fill="#2759b0" cx="521.9" cy="103.1" r="2.35"/>
<circle fill="#2759b0" cx="526.7" cy="107.9" r="2.35"/>
<circle fill="#2759b0" cx="530.3" cy="107.9" r="2.35"/>
<circle fill="#2759b0" cx="533.9" cy="100.8" r="2.35"/>
<circle fill="#2759b0" cx="535.0" cy="105.5" r="2.35"/>
<circle fill="#2759b0" cx="487.4" cy="105.5" r="2.35"/>
<circle fill="#2759b0" cx="489.8" cy="107.9" r="2.35"/>
<circle fill="#2759b0" cx="469.6" cy="116.3" r="2.35"/>
<circle fill="#2759b0" cx="473.1" cy="115.1" r="2.35"/>
<circle fill="#2759b0" cx="476.7" cy="113.9" r="2.35"/>
<circle fill="#2759b0" cx="482.7" cy="112.7" r="2.35"/>
<circle fill="#2759b0" cx="489.8" cy="109.1" r="2.35"/>
<circle fill="#2759b0" cx="493.4" cy="111.5" r="2.35"/>
<circle fill="#2759b0" cx="500.5" cy="110.3" r="2.35"/>
<circle fill="#2759b0" cx="505.3" cy="109.1" r="2.35"/>
<circle fill="#2759b0" cx="511.8" cy="107.9" r="2.35"/>
<circle fill="#2759b0" cx="517.2" cy="114.5" r="2.35"/>
<circle fill="#2759b0" cx="521.9" cy="112.7" r="2.35"/>
<circle fill="#2759b0" cx="525.5" cy="112.7" r="2.35"/>
<circle fill="#2759b0" cx="529.1" cy="111.5" r="2.35"/>
<circle fill="#2759b0" cx="532.7" cy="113.9" r="2.35"/>
<circle fill="#2759b0" cx="468.4" cy="119.8" r="2.35"/>
<circle fill="#2759b0" cx="472.5" cy="118.0" r="2.35"/>
<circle fill="#2759b0" cx="475.5" cy="121.0" r="2.35"/>
<circle fill="#2759b0" cx="488.6" cy="116.8" r="2.35"/>
<circle fill="#2759b0" cx="491.0" cy="118.6" r="2.35"/>
<circle fill="#2759b0" cx="494.6" cy="121.0" r="2.35"/>
<circle fill="#2759b0" cx="498.1" cy="122.2" r="2.35"/>
<circle fill="#2759b0" cx="500.5" cy="117.4" r="2.35"/>
<circle fill="#2759b0" cx="504.1" cy="119.8" r="2.35"/>
<circle fill="#2759b0" cx="507.7" cy="121.6" r="2.35"/>
<circle fill="#2759b0" cx="511.2" cy="119.8" r="2.35"/>
<circle fill="#2759b0" cx="514.8" cy="121.0" r="2.35"/>
<circle fill="#2759b0" cx="518.4" cy="119.8" r="2.35"/>
<circle fill="#2759b0" cx="521.9" cy="122.2" r="2.35"/>
<circle fill="#2759b0" cx="525.5" cy="122.8" r="2.35"/>
<circle fill="#2759b0" cx="530.3" cy="123.4" r="2.35"/>
<circle fill="#2759b0" cx="534.5" cy="119.8" r="2.35"/>
<circle fill="#2759b0" cx="470.8" cy="125.8" r="2.35"/>
<circle fill="#2759b0" cx="473.1" cy="123.4" r="2.35"/>
<circle fill="#2759b0" cx="469.6" cy="128.2" r="2.35"/>
<circle fill="#2759b0" cx="481.5" cy="127.6" r="2.35"/>
<circle fill="#2759b0" cx="485.0" cy="128.2" r="2.35"/>
<circle fill="#2759b0" cx="489.8" cy="124.6" r="2.35"/>
<circle fill="#2759b0" cx="493.4" cy="130.6" r="2.35"/>
<circle fill="#2759b0" cx="495.8" cy="129.4" r="2.35"/>
<circle fill="#2759b0" cx="499.3" cy="125.8" r="2.35"/>
<circle fill="#2759b0" cx="501.7" cy="127.0" r="2.35"/>
<circle fill="#2759b0" cx="505.3" cy="124.6" r="2.35"/>
<circle fill="#2759b0" cx="508.9" cy="125.8" r="2.35"/>
<circle fill="#2759b0" cx="512.4" cy="128.2" r="2.35"/>
<circle fill="#2759b0" cx="516.0" cy="124.6" r="2.35"/>
<circle fill="#2759b0" cx="519.6" cy="125.8" r="2.35"/>
<circle fill="#2759b0" cx="521.9" cy="128.2" r="2.35"/>
<circle fill="#2759b0" cx="527.9" cy="127.0" r="2.35"/>
<circle fill="#2759b0" cx="530.9" cy="130.6" r="2.35"/>
<circle fill="#2759b0" cx="535.0" cy="128.2" r="2.35"/>
<circle fill="#2759b0" cx="479.1" cy="131.7" r="2.35"/>
<circle fill="#2759b0" cx="482.7" cy="132.9" r="2.35"/>
<circle fill="#2759b0" cx="486.2" cy="131.7" r="2.35"/>
<circle fill="#2759b0" cx="488.6" cy="130.6" r="2.35"/>
<circle fill="#2759b0" cx="494.6" cy="131.7" r="2.35"/>
<circle fill="#2759b0" cx="498.1" cy="132.9" r="2.35"/>
<circle fill="#2759b0" cx="501.7" cy="132.3" r="2.35"/>
<circle fill="#2759b0" cx="505.3" cy="131.7" r="2.35"/>
<circle fill="#2759b0" cx="510.0" cy="131.7" r="2.35"/>
<circle fill="#2759b0" cx="513.6" cy="134.1" r="2.35"/>
<circle fill="#2759b0" cx="517.2" cy="135.3" r="2.35"/>
<circle fill="#2759b0" cx="520.8" cy="134.1" r="2.35"/>
<circle fill="#2759b0" cx="524.3" cy="135.3" r="2.35"/>
<circle fill="#2759b0" cx="529.1" cy="135.3" r="2.35"/>
<circle fill="#2759b0" cx="533.9" cy="132.9" r="2.35"/>
<circle fill="#2759b0" cx="474.3" cy="136.5" r="2.35"/>
<circle fill="#2759b0" cx="479.1" cy="137.7" r="2.35"/>
<circle fill="#2759b0" cx="470.8" cy="140.7" r="2.35"/>
<circle fill="#2759b0" cx="483.9" cy="137.7" r="2.35"/>
<circle fill="#2759b0" cx="487.4" cy="138.9" r="2.35"/>
<circle fill="#2759b0" cx="492.2" cy="137.1" r="2.35"/>
<circle fill="#2759b0" cx="495.8" cy="140.1" r="2.35"/>
<circle fill="#2759b0" cx="499.3" cy="137.7" r="2.35"/>
<circle fill="#2759b0" cx="505.3" cy="140.7" r="2.35"/>
<circle fill="#2759b0" cx="510.0" cy="138.3" r="2.35"/>
<circle fill="#2759b0" cx="513.6" cy="137.7" r="2.35"/>
<circle fill="#2759b0" cx="518.4" cy="137.7" r="2.35"/>
<circle fill="#2759b0" cx="521.9" cy="139.5" r="2.35"/>
<circle fill="#2759b0" cx="530.3" cy="136.5" r="2.35"/>
<circle fill="#2759b0" cx="533.9" cy="140.1" r="2.35"/>
<circle fill="#2759b0" cx="532.7" cy="143.7" r="2.35"/>
<circle fill="#2759b0" cx="474.3" cy="148.4" r="2.35"/>
<circle fill="#2759b0" cx="476.7" cy="149.6" r="2.35"/>
<circle fill="#2759b0" cx="477.9" cy="152.0" r="2.35"/>
<circle fill="#2759b0" cx="491.0" cy="144.9" r="2.35"/>
<circle fill="#2759b0" cx="493.4" cy="147.2" r="2.35"/>
<circle fill="#2759b0" cx="497.0" cy="146.0" r="2.35"/>
<circle fill="#2759b0" cx="494.6" cy="149.6" r="2.35"/>
<circle fill="#2759b0" cx="510.0" cy="147.2" r="2.35"/>
<circle fill="#2759b0" cx="513.6" cy="146.0" r="2.35"/>
<circle fill="#2759b0" cx="517.2" cy="148.4" r="2.35"/>
<circle fill="#2759b0" cx="520.8" cy="149.6" r="2.35"/>
<circle fill="#2759b0" cx="530.3" cy="148.4" r="2.35"/>
<circle fill="#2759b0" cx="532.1" cy="150.8" r="2.35"/>
<circle fill="#2759b0" cx="535.0" cy="147.2" r="2.35"/>
<circle fill="#2759b0" cx="479.1" cy="153.2" r="2.35"/>
<circle fill="#2759b0" cx="481.5" cy="155.6" r="2.35"/>
<circle fill="#2759b0" cx="482.7" cy="158.0" r="2.35"/>
<circle fill="#2759b0" cx="486.2" cy="153.2" r="2.35"/>
<circle fill="#2759b0" cx="489.8" cy="152.0" r="2.35"/>
<circle fill="#2759b0" cx="505.3" cy="156.8" r="2.35"/>
<circle fill="#2759b0" cx="507.7" cy="158.6" r="2.35"/>
<circle fill="#2759b0" cx="510.0" cy="159.1" r="2.35"/>
<circle fill="#2759b0" cx="512.4" cy="160.9" r="2.35"/>
<circle fill="#2759b0" cx="514.8" cy="162.1" r="2.35"/>
<circle fill="#2759b0" cx="516.0" cy="157.4" r="2.35"/>
<circle fill="#2759b0" cx="525.5" cy="157.4" r="2.35"/>
<circle fill="#2759b0" cx="526.7" cy="159.7" r="2.35"/>
<circle fill="#2759b0" cx="496.4" cy="165.5" r="2.35"/>
<circle fill="#2759b0" cx="536.4" cy="98.4" r="2.35"/>
<circle fill="#2759b0" cx="536.4" cy="100.8" r="2.35"/>
<circle fill="#2759b0" cx="541.4" cy="104.1" r="2.35"/>
<circle fill="#2759b0" cx="569.1" cy="101.4" r="2.35"/>
<circle fill="#2759b0" cx="570.3" cy="106.5" r="2.35"/>
<circle fill="#2759b0" cx="584.0" cy="102.6" r="2.35"/>
<circle fill="#2759b0" cx="538.8" cy="109.7" r="2.35"/>
<circle fill="#2759b0" cx="544.7" cy="109.7" r="2.35"/>
<circle fill="#2759b0" cx="545.3" cy="113.9" r="2.35"/>
<circle fill="#2759b0" cx="547.1" cy="117.4" r="2.35"/>
<circle fill="#2759b0" cx="541.1" cy="119.2" r="2.35"/>
<circle fill="#2759b0" cx="536.4" cy="116.3" r="2.35"/>
<circle fill="#2759b0" cx="553.0" cy="118.6" r="2.35"/>
<circle fill="#2759b0" cx="555.4" cy="118.0" r="2.35"/>
<circle fill="#2759b0" cx="553.0" cy="122.2" r="2.35"/>
<circle fill="#2759b0" cx="580.4" cy="115.3" r="2.35"/>
<circle fill="#2759b0" cx="591.1" cy="123.4" r="2.35"/>
<circle fill="#2759b0" cx="591.1" cy="129.4" r="2.35"/>
<circle fill="#2759b0" cx="600.1" cy="122.2" r="2.35"/>
<circle fill="#2759b0" cx="537.0" cy="127.6" r="2.35"/>
<circle fill="#2759b0" cx="540.0" cy="128.8" r="2.35"/>
<circle fill="#2759b0" cx="543.5" cy="128.2" r="2.35"/>
<circle fill="#2759b0" cx="547.1" cy="128.2" r="2.35"/>
<circle fill="#2759b0" cx="553.0" cy="128.2" r="2.35"/>
<circle fill="#2759b0" cx="554.2" cy="130.6" r="2.35"/>
<circle fill="#2759b0" cx="560.8" cy="130.6" r="2.35"/>
<circle fill="#2759b0" cx="536.4" cy="134.1" r="2.35"/>
<circle fill="#2759b0" cx="540.0" cy="132.9" r="2.35"/>
<circle fill="#2759b0" cx="541.1" cy="136.5" r="2.35"/>
<circle fill="#2759b0" cx="544.7" cy="136.5" r="2.35"/>
<circle fill="#2759b0" cx="538.8" cy="140.1" r="2.35"/>
<circle fill="#2759b0" cx="541.1" cy="142.5" r="2.35"/>
<circle fill="#2759b0" cx="536.4" cy="144.9" r="2.35"/>
<circle fill="#2759b0" cx="541.1" cy="147.2" r="2.35"/>
<circle fill="#2759b0" cx="536.4" cy="152.0" r="2.35"/>
<circle fill="#2759b0" cx="553.0" cy="136.5" r="2.35"/>
<circle fill="#2759b0" cx="553.0" cy="140.1" r="2.35"/>
<circle fill="#2759b0" cx="556.0" cy="143.1" r="2.35"/>
<circle fill="#2759b0" cx="557.8" cy="143.7" r="2.35"/>
<circle fill="#2759b0" cx="559.0" cy="135.3" r="2.35"/>
<circle fill="#2759b0" cx="564.9" cy="141.3" r="2.35"/>
<circle fill="#2759b0" cx="569.7" cy="131.7" r="2.35"/>
<circle fill="#2759b0" cx="572.1" cy="135.3" r="2.35"/>
<circle fill="#2759b0" cx="574.5" cy="137.7" r="2.35"/>
<circle fill="#2759b0" cx="570.9" cy="134.1" r="2.35"/>
<circle fill="#2759b0" cx="579.2" cy="132.9" r="2.35"/>
<circle fill="#2759b0" cx="581.6" cy="135.3" r="2.35"/>
<circle fill="#2759b0" cx="584.0" cy="137.7" r="2.35"/>
<circle fill="#2759b0" cx="578.0" cy="141.3" r="2.35"/>
<circle fill="#2759b0" cx="581.6" cy="142.5" r="2.35"/>
<circle fill="#2759b0" cx="593.5" cy="143.7" r="2.35"/>
<circle fill="#2759b0" cx="599.5" cy="144.9" r="2.35"/>
<circle fill="#2759b0" cx="600.7" cy="148.4" r="2.35"/>
<circle fill="#2759b0" cx="547.1" cy="147.2" r="2.35"/>
<circle fill="#2759b0" cx="552.5" cy="148.4" r="2.35"/>
<circle fill="#2759b0" cx="557.8" cy="150.2" r="2.35"/>
<circle fill="#2759b0" cx="555.4" cy="154.4" r="2.35"/>
<circle fill="#2759b0" cx="551.9" cy="157.4" r="2.35"/>
<circle fill="#2759b0" cx="545.9" cy="158.6" r="2.35"/>
<circle fill="#2759b0" cx="544.1" cy="157.4" r="2.35"/>
<circle fill="#2759b0" cx="560.8" cy="158.0" r="2.35"/>
<circle fill="#2759b0" cx="569.1" cy="159.4" r="2.35"/>
<circle fill="#2759b0" cx="579.2" cy="150.2" r="2.35"/>
<circle fill="#2759b0" cx="572.1" cy="168.1" r="2.35"/>
<circle fill="#2759b0" cx="601.9" cy="157.4" r="2.35"/>
<circle fill="#2759b0" cx="600.1" cy="163.3" r="2.35"/>
<circle fill="#2759b0" cx="608.4" cy="100.3" r="2.35"/>
<circle fill="#2759b0" cx="667.2" cy="112.6" r="2.35"/>
<circle fill="#2759b0" cx="617.8" cy="122.1" r="2.35"/>
<circle fill="#2759b0" cx="651.3" cy="124.5" r="2.35"/>
<circle fill="#2759b0" cx="651.3" cy="130.7" r="2.35"/>
<circle fill="#2759b0" cx="663.8" cy="132.8" r="2.35"/>
<circle fill="#2759b0" cx="620.0" cy="136.5" r="2.35"/>
<circle fill="#2759b0" cx="635.1" cy="138.9" r="2.35"/>
<circle fill="#2759b0" cx="654.7" cy="136.5" r="2.35"/>
<circle fill="#2759b0" cx="652.5" cy="141.6" r="2.35"/>
<circle fill="#2759b0" cx="606.1" cy="141.6" r="2.35"/>
<circle fill="#2759b0" cx="615.5" cy="157.3" r="2.35"/>
<circle fill="#2759b0" cx="623.7" cy="162.2" r="2.35"/>
<circle fill="#2759b0" cx="605.3" cy="168.4" r="2.35"/>
<circle fill="#2759b0" cx="649.1" cy="151.4" r="2.35"/>
<circle fill="#2759b0" cx="657.2" cy="155.8" r="2.35"/>
<circle fill="#2759b0" cx="658.4" cy="154.6" r="2.35"/>
<circle fill="#2759b0" cx="459.6" cy="88.9" r="2.35"/>
<circle fill="#2759b0" cx="463.1" cy="92.4" r="2.35"/>
<circle fill="#2759b0" cx="457.2" cy="93.6" r="2.35"/>
<circle fill="#2759b0" cx="460.7" cy="97.1" r="2.35"/>
<circle fill="#2759b0" cx="488.8" cy="94.7" r="2.35"/>
<circle fill="#2759b0" cx="492.3" cy="98.2" r="2.35"/>
<circle fill="#2759b0" cx="486.4" cy="100.6" r="2.35"/>
<circle fill="#2759b0" cx="495.8" cy="95.9" r="2.35"/>
<circle fill="#2759b0" cx="489.9" cy="102.9" r="2.35"/>
<circle fill="#2759b0" cx="465.4" cy="122.8" r="2.35"/>
<circle fill="#2759b0" cx="470.1" cy="126.3" r="2.35"/>
<circle fill="#2759b0" cx="467.7" cy="129.8" r="2.35"/>
<circle fill="#2759b0" cx="472.4" cy="120.4" r="2.35"/>
<circle fill="#2759b0" cx="491.1" cy="143.8" r="2.35"/>
<circle fill="#2759b0" cx="494.6" cy="147.3" r="2.35"/>
<circle fill="#2759b0" cx="492.3" cy="141.5" r="2.35"/>
<circle fill="#2759b0" cx="540.1" cy="129.8" r="2.35"/>
<circle fill="#2759b0" cx="544.8" cy="134.5" r="2.35"/>
<circle fill="#2759b0" cx="537.8" cy="136.8" r="2.35"/>
<circle fill="#2759b0" cx="542.5" cy="126.3" r="2.35"/>
<circle fill="#2759b0" cx="509.8" cy="122.8" r="2.35"/>
<circle fill="#2759b0" cx="514.5" cy="126.3" r="2.35"/>
<circle fill="#2759b0" cx="516.8" cy="129.8" r="2.35"/>
<circle fill="#2759b0" cx="474.7" cy="101.8" r="2.35"/>
<circle fill="#2759b0" cx="477.1" cy="99.4" r="2.35"/>
<circle fill="#2759b0" cx="446.7" cy="90.1" r="2.35"/>
<circle fill="#2759b0" cx="450.2" cy="86.6" r="2.35"/>
<circle fill="#2759b0" cx="477.1" cy="139.1" r="2.35"/>
<circle fill="#2759b0" cx="481.8" cy="147.3" r="2.35"/>
<circle fill="#2759b0" cx="484.1" cy="153.1" r="2.35"/>
<circle fill="#2759b0" cx="526.1" cy="129.8" r="2.35"/>
<circle fill="#2759b0" cx="521.5" cy="122.8" r="2.35"/>
<line x1="403.00" y1="92.89" x2="666.93" y2="148.92" stroke="#151515" stroke-width="1.5"/>
<text transform="translate(355.70 16.60) scale(0.98 1)" font-size="21.6">B</text>
<text x="428.80" y="18.40" font-size="14.3" stroke="#222" stroke-width="0.2" textLength="118.60" lengthAdjust="spacingAndGlyphs">r=-0.380, p&lt;0.001*</text>
<text x="478.30" y="215.00" font-size="14" stroke="#222" stroke-width="0.2" textLength="126.40" lengthAdjust="spacingAndGlyphs" xml:space="preserve">After-school education</text>
<text transform="translate(372.00 152.40) rotate(-90)" font-size="12.3" stroke="#222" stroke-width="0.2" textLength="113.80" lengthAdjust="spacingAndGlyphs" xml:space="preserve">Total PAQ-C  score</text></g>
<g fill="#222"><path d="M51.00 252.70V423.70M50.50 423.20H331.70" stroke="#666" stroke-width="1.3" fill="none"/>
<path d="M46.20 423.20H51.00M46.20 380.72H51.00M46.20 338.25H51.00M46.20 295.77H51.00M46.20 253.30H51.00M51.00 423.20V428.20M121.05 423.20V428.20M191.10 423.20V428.20M261.15 423.20V428.20M331.20 423.20V428.20" stroke="#666" stroke-width="1.1" fill="none"/>
<text transform="translate(39.40 426.10) scale(0.95 1)" text-anchor="end" font-size="11.3" stroke="#222" stroke-width="0.5">1</text>
<text transform="translate(39.40 383.62) scale(0.95 1)" text-anchor="end" font-size="11.3" stroke="#222" stroke-width="0.5">2</text>
<text transform="translate(39.40 341.15) scale(0.95 1)" text-anchor="end" font-size="11.3" stroke="#222" stroke-width="0.5">3</text>
<text transform="translate(39.40 298.67) scale(0.95 1)" text-anchor="end" font-size="11.3" stroke="#222" stroke-width="0.5">4</text>
<text transform="translate(39.40 256.20) scale(0.95 1)" text-anchor="end" font-size="11.3" stroke="#222" stroke-width="0.5">5</text>
<text transform="translate(51.00 443.70) scale(0.95 1)" text-anchor="middle" font-size="11" stroke="#222" stroke-width="0.5">0</text>
<text transform="translate(121.05 443.70) scale(0.95 1)" text-anchor="middle" font-size="11" stroke="#222" stroke-width="0.5">0.5</text>
<text transform="translate(191.10 443.70) scale(0.95 1)" text-anchor="middle" font-size="11" stroke="#222" stroke-width="0.5">1</text>
<text transform="translate(261.15 443.70) scale(0.95 1)" text-anchor="middle" font-size="11" stroke="#222" stroke-width="0.5">1.5</text>
<text transform="translate(331.20 443.70) scale(0.95 1)" text-anchor="middle" font-size="11" stroke="#222" stroke-width="0.5">2</text>
<circle fill="#2759b0" cx="51.4" cy="274.6" r="2.35"/>
<circle fill="#2759b0" cx="96.4" cy="283.3" r="2.35"/>
<circle fill="#2759b0" cx="51.3" cy="294.3" r="2.35"/>
<circle fill="#2759b0" cx="62.9" cy="294.3" r="2.35"/>
<circle fill="#2759b0" cx="77.5" cy="290.8" r="2.35"/>
<circle fill="#2759b0" cx="75.8" cy="294.3" r="2.35"/>
<circle fill="#2759b0" cx="81.6" cy="294.3" r="2.35"/>
<circle fill="#2759b0" cx="87.5" cy="291.7" r="2.35"/>
<circle fill="#2759b0" cx="97.1" cy="296.6" r="2.35"/>
<circle fill="#2759b0" cx="62.9" cy="300.1" r="2.35"/>
<circle fill="#2759b0" cx="67.6" cy="304.0" r="2.35"/>
<circle fill="#2759b0" cx="51.3" cy="312.1" r="2.35"/>
<circle fill="#2759b0" cx="60.6" cy="308.0" r="2.35"/>
<circle fill="#2759b0" cx="62.9" cy="311.0" r="2.35"/>
<circle fill="#2759b0" cx="59.4" cy="313.9" r="2.35"/>
<circle fill="#2759b0" cx="67.0" cy="311.6" r="2.35"/>
<circle fill="#2759b0" cx="68.2" cy="315.1" r="2.35"/>
<circle fill="#2759b0" cx="74.6" cy="306.9" r="2.35"/>
<circle fill="#2759b0" cx="75.2" cy="310.4" r="2.35"/>
<circle fill="#2759b0" cx="78.7" cy="312.7" r="2.35"/>
<circle fill="#2759b0" cx="81.0" cy="315.1" r="2.35"/>
<circle fill="#2759b0" cx="81.6" cy="306.3" r="2.35"/>
<circle fill="#2759b0" cx="86.9" cy="309.8" r="2.35"/>
<circle fill="#2759b0" cx="88.6" cy="312.7" r="2.35"/>
<circle fill="#2759b0" cx="93.9" cy="306.3" r="2.35"/>
<circle fill="#2759b0" cx="97.4" cy="308.0" r="2.35"/>
<circle fill="#2759b0" cx="105.8" cy="311.3" r="2.35"/>
<circle fill="#2759b0" cx="116.7" cy="312.7" r="2.35"/>
<circle fill="#2759b0" cx="120.7" cy="315.6" r="2.35"/>
<circle fill="#2759b0" cx="116.1" cy="319.7" r="2.35"/>
<circle fill="#2759b0" cx="97.4" cy="317.4" r="2.35"/>
<circle fill="#2759b0" cx="84.5" cy="318.6" r="2.35"/>
<circle fill="#2759b0" cx="86.9" cy="320.3" r="2.35"/>
<circle fill="#2759b0" cx="90.4" cy="320.3" r="2.35"/>
<circle fill="#2759b0" cx="57.7" cy="320.9" r="2.35"/>
<circle fill="#2759b0" cx="61.2" cy="322.1" r="2.35"/>
<circle fill="#2759b0" cx="64.7" cy="323.2" r="2.35"/>
<circle fill="#2759b0" cx="68.2" cy="324.4" r="2.35"/>
<circle fill="#2759b0" cx="71.7" cy="320.9" r="2.35"/>
<circle fill="#2759b0" cx="74.6" cy="320.9" r="2.35"/>
<circle fill="#2759b0" cx="77.5" cy="323.2" r="2.35"/>
<circle fill="#2759b0" cx="51.3" cy="323.2" r="2.35"/>
<circle fill="#2759b0" cx="51.3" cy="327.9" r="2.35"/>
<circle fill="#2759b0" cx="60.0" cy="326.7" r="2.35"/>
<circle fill="#2759b0" cx="63.5" cy="327.9" r="2.35"/>
<circle fill="#2759b0" cx="69.4" cy="326.7" r="2.35"/>
<circle fill="#2759b0" cx="72.9" cy="327.9" r="2.35"/>
<circle fill="#2759b0" cx="76.4" cy="329.1" r="2.35"/>
<circle fill="#2759b0" cx="81.0" cy="325.6" r="2.35"/>
<circle fill="#2759b0" cx="84.5" cy="326.7" r="2.35"/>
<circle fill="#2759b0" cx="86.9" cy="324.4" r="2.35"/>
<circle fill="#2759b0" cx="97.4" cy="323.2" r="2.35"/>
<circle fill="#2759b0" cx="100.9" cy="323.2" r="2.35"/>
<circle fill="#2759b0" cx="103.2" cy="325.6" r="2.35"/>
<circle fill="#2759b0" cx="95.0" cy="327.9" r="2.35"/>
<circle fill="#2759b0" cx="99.7" cy="329.1" r="2.35"/>
<circle fill="#2759b0" cx="109.1" cy="329.1" r="2.35"/>
<circle fill="#2759b0" cx="51.3" cy="394.5" r="2.35"/>
<circle fill="#2759b0" cx="51.3" cy="396.9" r="2.35"/>
<circle fill="#2759b0" cx="51.3" cy="415.0" r="2.35"/>
<circle fill="#2759b0" cx="58.8" cy="393.4" r="2.35"/>
<circle fill="#2759b0" cx="60.6" cy="393.9" r="2.35"/>
<circle fill="#2759b0" cx="63.5" cy="393.4" r="2.35"/>
<circle fill="#2759b0" cx="67.0" cy="393.9" r="2.35"/>
<circle fill="#2759b0" cx="58.8" cy="398.0" r="2.35"/>
<circle fill="#2759b0" cx="58.8" cy="401.5" r="2.35"/>
<circle fill="#2759b0" cx="60.0" cy="403.9" r="2.35"/>
<circle fill="#2759b0" cx="63.5" cy="405.6" r="2.35"/>
<circle fill="#2759b0" cx="69.4" cy="408.0" r="2.35"/>
<circle fill="#2759b0" cx="72.9" cy="408.0" r="2.35"/>
<circle fill="#2759b0" cx="75.2" cy="406.2" r="2.35"/>
<circle fill="#2759b0" cx="75.2" cy="403.9" r="2.35"/>
<circle fill="#2759b0" cx="73.4" cy="399.2" r="2.35"/>
<circle fill="#2759b0" cx="72.3" cy="396.9" r="2.35"/>
<circle fill="#2759b0" cx="76.4" cy="396.9" r="2.35"/>
<circle fill="#2759b0" cx="81.0" cy="395.7" r="2.35"/>
<circle fill="#2759b0" cx="83.4" cy="396.9" r="2.35"/>
<circle fill="#2759b0" cx="86.3" cy="395.7" r="2.35"/>
<circle fill="#2759b0" cx="81.0" cy="401.5" r="2.35"/>
<circle fill="#2759b0" cx="85.7" cy="401.5" r="2.35"/>
<circle fill="#2759b0" cx="88.0" cy="402.1" r="2.35"/>
<circle fill="#2759b0" cx="86.3" cy="405.0" r="2.35"/>
<circle fill="#2759b0" cx="86.9" cy="408.5" r="2.35"/>
<circle fill="#2759b0" cx="86.3" cy="412.0" r="2.35"/>
<circle fill="#2759b0" cx="86.3" cy="414.4" r="2.35"/>
<circle fill="#2759b0" cx="96.8" cy="393.4" r="2.35"/>
<circle fill="#2759b0" cx="97.4" cy="396.9" r="2.35"/>
<circle fill="#2759b0" cx="97.4" cy="401.5" r="2.35"/>
<circle fill="#2759b0" cx="97.4" cy="405.0" r="2.35"/>
<circle fill="#2759b0" cx="102.1" cy="396.9" r="2.35"/>
<circle fill="#2759b0" cx="100.9" cy="403.9" r="2.35"/>
<circle fill="#2759b0" cx="104.4" cy="404.4" r="2.35"/>
<circle fill="#2759b0" cx="103.2" cy="400.4" r="2.35"/>
<circle fill="#2759b0" cx="101.5" cy="415.0" r="2.35"/>
<circle fill="#2759b0" cx="106.7" cy="392.2" r="2.35"/>
<circle fill="#2759b0" cx="109.6" cy="393.9" r="2.35"/>
<circle fill="#2759b0" cx="109.1" cy="392.2" r="2.35"/>
<circle fill="#2759b0" cx="127.8" cy="296.6" r="2.35"/>
<circle fill="#2759b0" cx="151.0" cy="314.7" r="2.35"/>
<circle fill="#2759b0" cx="151.0" cy="331.6" r="2.35"/>
<circle fill="#2759b0" cx="126.9" cy="337.6" r="2.35"/>
<circle fill="#2759b0" cx="164.8" cy="339.4" r="2.35"/>
<circle fill="#2759b0" cx="121.4" cy="341.7" r="2.35"/>
<circle fill="#2759b0" cx="122.6" cy="344.2" r="2.35"/>
<circle fill="#2759b0" cx="120.7" cy="345.5" r="2.35"/>
<circle fill="#2759b0" cx="124.5" cy="343.6" r="2.35"/>
<circle fill="#2759b0" cx="135.0" cy="343.8" r="2.35"/>
<circle fill="#2759b0" cx="158.0" cy="343.8" r="2.35"/>
<circle fill="#2759b0" cx="154.4" cy="347.6" r="2.35"/>
<circle fill="#2759b0" cx="164.9" cy="340.4" r="2.35"/>
<circle fill="#2759b0" cx="121.1" cy="352.4" r="2.35"/>
<circle fill="#2759b0" cx="126.8" cy="352.4" r="2.35"/>
<circle fill="#2759b0" cx="121.1" cy="358.7" r="2.35"/>
<circle fill="#2759b0" cx="126.8" cy="358.5" r="2.35"/>
<circle fill="#2759b0" cx="110.6" cy="355.6" r="2.35"/>
<circle fill="#2759b0" cx="111.9" cy="360.6" r="2.35"/>
<circle fill="#2759b0" cx="140.7" cy="359.6" r="2.35"/>
<circle fill="#2759b0" cx="117.6" cy="365.0" r="2.35"/>
<circle fill="#2759b0" cx="116.9" cy="368.8" r="2.35"/>
<circle fill="#2759b0" cx="111.3" cy="366.3" r="2.35"/>
<circle fill="#2759b0" cx="131.4" cy="365.9" r="2.35"/>
<circle fill="#2759b0" cx="158.6" cy="365.3" r="2.35"/>
<circle fill="#2759b0" cx="163.0" cy="365.7" r="2.35"/>
<circle fill="#2759b0" cx="181.3" cy="365.7" r="2.35"/>
<circle fill="#2759b0" cx="128.3" cy="372.9" r="2.35"/>
<circle fill="#2759b0" cx="131.4" cy="376.4" r="2.35"/>
<circle fill="#2759b0" cx="131.4" cy="378.3" r="2.35"/>
<circle fill="#2759b0" cx="121.4" cy="375.8" r="2.35"/>
<circle fill="#2759b0" cx="121.4" cy="380.8" r="2.35"/>
<circle fill="#2759b0" cx="111.3" cy="375.1" r="2.35"/>
<circle fill="#2759b0" cx="147.9" cy="375.8" r="2.35"/>
<circle fill="#2759b0" cx="156.9" cy="372.9" r="2.35"/>
<circle fill="#2759b0" cx="154.4" cy="377.9" r="2.35"/>
<circle fill="#2759b0" cx="169.3" cy="382.7" r="2.35"/>
<circle fill="#2759b0" cx="176.6" cy="380.4" r="2.35"/>
<circle fill="#2759b0" cx="115.7" cy="383.3" r="2.35"/>
<circle fill="#2759b0" cx="111.9" cy="385.2" r="2.35"/>
<circle fill="#2759b0" cx="124.5" cy="386.5" r="2.35"/>
<circle fill="#2759b0" cx="132.7" cy="386.5" r="2.35"/>
<circle fill="#2759b0" cx="138.4" cy="386.5" r="2.35"/>
<circle fill="#2759b0" cx="142.2" cy="385.2" r="2.35"/>
<circle fill="#2759b0" cx="164.9" cy="391.2" r="2.35"/>
<circle fill="#2759b0" cx="111.3" cy="392.8" r="2.35"/>
<circle fill="#2759b0" cx="113.8" cy="396.6" r="2.35"/>
<circle fill="#2759b0" cx="117.6" cy="401.0" r="2.35"/>
<circle fill="#2759b0" cx="111.9" cy="401.6" r="2.35"/>
<circle fill="#2759b0" cx="111.9" cy="405.4" r="2.35"/>
<circle fill="#2759b0" cx="144.1" cy="396.3" r="2.35"/>
<circle fill="#2759b0" cx="147.9" cy="396.3" r="2.35"/>
<circle fill="#2759b0" cx="151.0" cy="396.3" r="2.35"/>
<circle fill="#2759b0" cx="139.4" cy="402.0" r="2.35"/>
<circle fill="#2759b0" cx="144.1" cy="404.5" r="2.35"/>
<circle fill="#2759b0" cx="191.3" cy="317.2" r="2.35"/>
<circle fill="#2759b0" cx="191.3" cy="340.1" r="2.35"/>
<circle fill="#2759b0" cx="191.3" cy="375.6" r="2.35"/>
<circle fill="#2759b0" cx="191.3" cy="402.1" r="2.35"/>
<circle fill="#2759b0" cx="206.5" cy="355.8" r="2.35"/>
<circle fill="#2759b0" cx="241.5" cy="352.2" r="2.35"/>
<circle fill="#2759b0" cx="230.6" cy="384.0" r="2.35"/>
<circle fill="#2759b0" cx="211.3" cy="390.0" r="2.35"/>
<circle fill="#2759b0" cx="199.7" cy="398.5" r="2.35"/>
<circle fill="#2759b0" cx="287.3" cy="396.1" r="2.35"/>
<circle fill="#2759b0" cx="310.7" cy="392.4" r="2.35"/>
<circle fill="#2759b0" cx="65.6" cy="341.4" r="2.35"/>
<circle fill="#2759b0" cx="61.5" cy="339.7" r="2.35"/>
<circle fill="#2759b0" cx="64.4" cy="330.4" r="2.35"/>
<circle fill="#2759b0" cx="64.9" cy="339.7" r="2.35"/>
<circle fill="#2759b0" cx="58.2" cy="330.9" r="2.35"/>
<circle fill="#2759b0" cx="59.3" cy="328.9" r="2.35"/>
<circle fill="#2759b0" cx="57.1" cy="330.5" r="2.35"/>
<circle fill="#2759b0" cx="59.2" cy="332.5" r="2.35"/>
<circle fill="#2759b0" cx="57.2" cy="342.5" r="2.35"/>
<circle fill="#2759b0" cx="63.5" cy="337.4" r="2.35"/>
<circle fill="#2759b0" cx="64.9" cy="337.5" r="2.35"/>
<circle fill="#2759b0" cx="60.9" cy="339.4" r="2.35"/>
<circle fill="#2759b0" cx="57.6" cy="335.4" r="2.35"/>
<circle fill="#2759b0" cx="64.2" cy="328.9" r="2.35"/>
<circle fill="#2759b0" cx="65.7" cy="340.7" r="2.35"/>
<circle fill="#2759b0" cx="64.6" cy="338.0" r="2.35"/>
<circle fill="#2759b0" cx="71.9" cy="341.9" r="2.35"/>
<circle fill="#2759b0" cx="74.9" cy="336.8" r="2.35"/>
<circle fill="#2759b0" cx="72.8" cy="341.9" r="2.35"/>
<circle fill="#2759b0" cx="70.5" cy="342.3" r="2.35"/>
<circle fill="#2759b0" cx="68.5" cy="334.2" r="2.35"/>
<circle fill="#2759b0" cx="75.1" cy="331.5" r="2.35"/>
<circle fill="#2759b0" cx="75.9" cy="337.5" r="2.35"/>
<circle fill="#2759b0" cx="72.7" cy="337.9" r="2.35"/>
<circle fill="#2759b0" cx="69.2" cy="328.0" r="2.35"/>
<circle fill="#2759b0" cx="73.7" cy="343.2" r="2.35"/>
<circle fill="#2759b0" cx="68.2" cy="336.1" r="2.35"/>
<circle fill="#2759b0" cx="73.9" cy="335.8" r="2.35"/>
<circle fill="#2759b0" cx="67.5" cy="338.2" r="2.35"/>
<circle fill="#2759b0" cx="67.1" cy="330.1" r="2.35"/>
<circle fill="#2759b0" cx="75.2" cy="339.2" r="2.35"/>
<circle fill="#2759b0" cx="79.2" cy="336.4" r="2.35"/>
<circle fill="#2759b0" cx="80.4" cy="328.3" r="2.35"/>
<circle fill="#2759b0" cx="78.9" cy="334.4" r="2.35"/>
<circle fill="#2759b0" cx="88.4" cy="341.1" r="2.35"/>
<circle fill="#2759b0" cx="82.7" cy="330.4" r="2.35"/>
<circle fill="#2759b0" cx="78.7" cy="332.5" r="2.35"/>
<circle fill="#2759b0" cx="85.6" cy="329.3" r="2.35"/>
<circle fill="#2759b0" cx="78.8" cy="340.2" r="2.35"/>
<circle fill="#2759b0" cx="89.6" cy="332.0" r="2.35"/>
<circle fill="#2759b0" cx="81.3" cy="328.8" r="2.35"/>
<circle fill="#2759b0" cx="78.4" cy="342.4" r="2.35"/>
<circle fill="#2759b0" cx="85.9" cy="337.0" r="2.35"/>
<circle fill="#2759b0" cx="86.4" cy="331.3" r="2.35"/>
<circle fill="#2759b0" cx="80.8" cy="329.6" r="2.35"/>
<circle fill="#2759b0" cx="81.5" cy="337.6" r="2.35"/>
<circle fill="#2759b0" cx="102.0" cy="329.1" r="2.35"/>
<circle fill="#2759b0" cx="100.7" cy="331.4" r="2.35"/>
<circle fill="#2759b0" cx="98.2" cy="339.6" r="2.35"/>
<circle fill="#2759b0" cx="93.6" cy="339.9" r="2.35"/>
<circle fill="#2759b0" cx="93.0" cy="332.2" r="2.35"/>
<circle fill="#2759b0" cx="97.1" cy="335.7" r="2.35"/>
<circle fill="#2759b0" cx="95.0" cy="333.4" r="2.35"/>
<circle fill="#2759b0" cx="97.1" cy="337.5" r="2.35"/>
<circle fill="#2759b0" cx="100.6" cy="331.7" r="2.35"/>
<circle fill="#2759b0" cx="107.9" cy="342.5" r="2.35"/>
<circle fill="#2759b0" cx="105.6" cy="333.9" r="2.35"/>
<circle fill="#2759b0" cx="108.5" cy="343.5" r="2.35"/>
<circle fill="#2759b0" cx="61.1" cy="354.1" r="2.35"/>
<circle fill="#2759b0" cx="63.6" cy="345.7" r="2.35"/>
<circle fill="#2759b0" cx="63.7" cy="358.2" r="2.35"/>
<circle fill="#2759b0" cx="60.7" cy="345.4" r="2.35"/>
<circle fill="#2759b0" cx="65.9" cy="350.1" r="2.35"/>
<circle fill="#2759b0" cx="59.1" cy="350.5" r="2.35"/>
<circle fill="#2759b0" cx="66.9" cy="346.0" r="2.35"/>
<circle fill="#2759b0" cx="60.8" cy="351.9" r="2.35"/>
<circle fill="#2759b0" cx="60.8" cy="346.5" r="2.35"/>
<circle fill="#2759b0" cx="63.7" cy="356.9" r="2.35"/>
<circle fill="#2759b0" cx="61.7" cy="357.3" r="2.35"/>
<circle fill="#2759b0" cx="64.2" cy="358.7" r="2.35"/>
<circle fill="#2759b0" cx="61.6" cy="345.6" r="2.35"/>
<circle fill="#2759b0" cx="66.4" cy="356.1" r="2.35"/>
<circle fill="#2759b0" cx="58.8" cy="356.6" r="2.35"/>
<circle fill="#2759b0" cx="65.6" cy="346.7" r="2.35"/>
<circle fill="#2759b0" cx="58.4" cy="348.6" r="2.35"/>
<circle fill="#2759b0" cx="72.3" cy="350.9" r="2.35"/>
<circle fill="#2759b0" cx="75.3" cy="352.7" r="2.35"/>
<circle fill="#2759b0" cx="73.6" cy="345.0" r="2.35"/>
<circle fill="#2759b0" cx="69.4" cy="354.5" r="2.35"/>
<circle fill="#2759b0" cx="69.4" cy="344.3" r="2.35"/>
<circle fill="#2759b0" cx="78.0" cy="353.9" r="2.35"/>
<circle fill="#2759b0" cx="70.6" cy="349.0" r="2.35"/>
<circle fill="#2759b0" cx="74.4" cy="350.8" r="2.35"/>
<circle fill="#2759b0" cx="73.8" cy="351.4" r="2.35"/>
<circle fill="#2759b0" cx="70.8" cy="359.4" r="2.35"/>
<circle fill="#2759b0" cx="74.9" cy="349.8" r="2.35"/>
<circle fill="#2759b0" cx="74.8" cy="349.5" r="2.35"/>
<circle fill="#2759b0" cx="74.7" cy="345.7" r="2.35"/>
<circle fill="#2759b0" cx="72.8" cy="349.3" r="2.35"/>
<circle fill="#2759b0" cx="76.7" cy="349.4" r="2.35"/>
<circle fill="#2759b0" cx="74.9" cy="351.3" r="2.35"/>
<circle fill="#2759b0" cx="85.2" cy="357.6" r="2.35"/>
<circle fill="#2759b0" cx="80.3" cy="349.4" r="2.35"/>
<circle fill="#2759b0" cx="84.0" cy="359.5" r="2.35"/>
<circle fill="#2759b0" cx="85.0" cy="356.7" r="2.35"/>
<circle fill="#2759b0" cx="82.0" cy="346.2" r="2.35"/>
<circle fill="#2759b0" cx="81.4" cy="352.5" r="2.35"/>
<circle fill="#2759b0" cx="81.7" cy="358.5" r="2.35"/>
<circle fill="#2759b0" cx="86.0" cy="344.9" r="2.35"/>
<circle fill="#2759b0" cx="78.1" cy="346.7" r="2.35"/>
<circle fill="#2759b0" cx="86.1" cy="358.7" r="2.35"/>
<circle fill="#2759b0" cx="78.2" cy="352.4" r="2.35"/>
<circle fill="#2759b0" cx="87.4" cy="354.7" r="2.35"/>
<circle fill="#2759b0" cx="82.3" cy="359.7" r="2.35"/>
<circle fill="#2759b0" cx="85.1" cy="359.2" r="2.35"/>
<circle fill="#2759b0" cx="86.3" cy="355.7" r="2.35"/>
<circle fill="#2759b0" cx="88.0" cy="349.8" r="2.35"/>
<circle fill="#2759b0" cx="82.0" cy="350.7" r="2.35"/>
<circle fill="#2759b0" cx="79.1" cy="351.1" r="2.35"/>
<circle fill="#2759b0" cx="81.9" cy="349.8" r="2.35"/>
<circle fill="#2759b0" cx="94.1" cy="346.2" r="2.35"/>
<circle fill="#2759b0" cx="96.2" cy="359.4" r="2.35"/>
<circle fill="#2759b0" cx="91.3" cy="351.2" r="2.35"/>
<circle fill="#2759b0" cx="98.0" cy="356.2" r="2.35"/>
<circle fill="#2759b0" cx="91.6" cy="357.5" r="2.35"/>
<circle fill="#2759b0" cx="95.5" cy="358.9" r="2.35"/>
<circle fill="#2759b0" cx="98.9" cy="344.4" r="2.35"/>
<circle fill="#2759b0" cx="94.4" cy="353.5" r="2.35"/>
<circle fill="#2759b0" cx="92.2" cy="358.6" r="2.35"/>
<circle fill="#2759b0" cx="106.4" cy="351.5" r="2.35"/>
<circle fill="#2759b0" cx="109.9" cy="349.5" r="2.35"/>
<circle fill="#2759b0" cx="106.2" cy="359.7" r="2.35"/>
<circle fill="#2759b0" cx="65.9" cy="362.7" r="2.35"/>
<circle fill="#2759b0" cx="59.3" cy="365.9" r="2.35"/>
<circle fill="#2759b0" cx="58.2" cy="371.6" r="2.35"/>
<circle fill="#2759b0" cx="60.0" cy="366.1" r="2.35"/>
<circle fill="#2759b0" cx="57.6" cy="371.2" r="2.35"/>
<circle fill="#2759b0" cx="58.9" cy="374.6" r="2.35"/>
<circle fill="#2759b0" cx="58.9" cy="371.1" r="2.35"/>
<circle fill="#2759b0" cx="57.9" cy="361.9" r="2.35"/>
<circle fill="#2759b0" cx="65.5" cy="372.5" r="2.35"/>
<circle fill="#2759b0" cx="60.3" cy="375.8" r="2.35"/>
<circle fill="#2759b0" cx="66.9" cy="360.2" r="2.35"/>
<circle fill="#2759b0" cx="64.1" cy="374.0" r="2.35"/>
<circle fill="#2759b0" cx="60.5" cy="376.0" r="2.35"/>
<circle fill="#2759b0" cx="61.2" cy="369.3" r="2.35"/>
<circle fill="#2759b0" cx="63.6" cy="363.2" r="2.35"/>
<circle fill="#2759b0" cx="60.9" cy="367.4" r="2.35"/>
<circle fill="#2759b0" cx="74.1" cy="375.0" r="2.35"/>
<circle fill="#2759b0" cx="74.5" cy="365.4" r="2.35"/>
<circle fill="#2759b0" cx="75.0" cy="364.1" r="2.35"/>
<circle fill="#2759b0" cx="75.4" cy="366.9" r="2.35"/>
<circle fill="#2759b0" cx="67.9" cy="362.8" r="2.35"/>
<circle fill="#2759b0" cx="71.3" cy="369.2" r="2.35"/>
<circle fill="#2759b0" cx="68.1" cy="372.1" r="2.35"/>
<circle fill="#2759b0" cx="75.8" cy="362.0" r="2.35"/>
<circle fill="#2759b0" cx="72.2" cy="372.8" r="2.35"/>
<circle fill="#2759b0" cx="69.2" cy="369.2" r="2.35"/>
<circle fill="#2759b0" cx="68.1" cy="364.6" r="2.35"/>
<circle fill="#2759b0" cx="67.9" cy="362.1" r="2.35"/>
<circle fill="#2759b0" cx="71.6" cy="363.9" r="2.35"/>
<circle fill="#2759b0" cx="70.3" cy="366.0" r="2.35"/>
<circle fill="#2759b0" cx="68.0" cy="363.5" r="2.35"/>
<circle fill="#2759b0" cx="76.8" cy="361.1" r="2.35"/>
<circle fill="#2759b0" cx="86.9" cy="374.3" r="2.35"/>
<circle fill="#2759b0" cx="84.8" cy="365.6" r="2.35"/>
<circle fill="#2759b0" cx="89.4" cy="369.2" r="2.35"/>
<circle fill="#2759b0" cx="89.9" cy="375.9" r="2.35"/>
<circle fill="#2759b0" cx="86.8" cy="368.8" r="2.35"/>
<circle fill="#2759b0" cx="81.1" cy="372.6" r="2.35"/>
<circle fill="#2759b0" cx="88.4" cy="370.8" r="2.35"/>
<circle fill="#2759b0" cx="78.1" cy="372.4" r="2.35"/>
<circle fill="#2759b0" cx="87.1" cy="373.7" r="2.35"/>
<circle fill="#2759b0" cx="80.5" cy="365.1" r="2.35"/>
<circle fill="#2759b0" cx="82.4" cy="370.5" r="2.35"/>
<circle fill="#2759b0" cx="85.3" cy="362.7" r="2.35"/>
<circle fill="#2759b0" cx="89.6" cy="363.4" r="2.35"/>
<circle fill="#2759b0" cx="81.5" cy="368.0" r="2.35"/>
<circle fill="#2759b0" cx="89.7" cy="365.8" r="2.35"/>
<circle fill="#2759b0" cx="84.0" cy="369.2" r="2.35"/>
<circle fill="#2759b0" cx="85.6" cy="361.1" r="2.35"/>
<circle fill="#2759b0" cx="79.0" cy="360.8" r="2.35"/>
<circle fill="#2759b0" cx="89.3" cy="363.1" r="2.35"/>
<circle fill="#2759b0" cx="84.2" cy="375.8" r="2.35"/>
<circle fill="#2759b0" cx="94.3" cy="370.1" r="2.35"/>
<circle fill="#2759b0" cx="94.5" cy="375.1" r="2.35"/>
<circle fill="#2759b0" cx="97.5" cy="363.0" r="2.35"/>
<circle fill="#2759b0" cx="96.2" cy="362.0" r="2.35"/>
<circle fill="#2759b0" cx="91.0" cy="364.5" r="2.35"/>
<circle fill="#2759b0" cx="97.9" cy="372.1" r="2.35"/>
<circle fill="#2759b0" cx="91.2" cy="374.2" r="2.35"/>
<circle fill="#2759b0" cx="98.4" cy="363.0" r="2.35"/>
<circle fill="#2759b0" cx="96.5" cy="373.0" r="2.35"/>
<circle fill="#2759b0" cx="94.9" cy="375.2" r="2.35"/>
<circle fill="#2759b0" cx="99.1" cy="365.3" r="2.35"/>
<circle fill="#2759b0" cx="97.6" cy="371.9" r="2.35"/>
<circle fill="#2759b0" cx="107.9" cy="364.7" r="2.35"/>
<circle fill="#2759b0" cx="103.4" cy="360.7" r="2.35"/>
<circle fill="#2759b0" cx="105.2" cy="370.7" r="2.35"/>
<circle fill="#2759b0" cx="102.5" cy="363.2" r="2.35"/>
<circle fill="#2759b0" cx="58.8" cy="391.8" r="2.35"/>
<circle fill="#2759b0" cx="66.8" cy="384.0" r="2.35"/>
<circle fill="#2759b0" cx="58.3" cy="389.0" r="2.35"/>
<circle fill="#2759b0" cx="66.8" cy="377.6" r="2.35"/>
<circle fill="#2759b0" cx="60.9" cy="383.8" r="2.35"/>
<circle fill="#2759b0" cx="65.0" cy="385.7" r="2.35"/>
<circle fill="#2759b0" cx="59.6" cy="387.7" r="2.35"/>
<circle fill="#2759b0" cx="63.8" cy="381.8" r="2.35"/>
<circle fill="#2759b0" cx="63.7" cy="377.9" r="2.35"/>
<circle fill="#2759b0" cx="57.9" cy="389.1" r="2.35"/>
<circle fill="#2759b0" cx="57.8" cy="387.3" r="2.35"/>
<circle fill="#2759b0" cx="63.7" cy="385.7" r="2.35"/>
<circle fill="#2759b0" cx="65.0" cy="379.1" r="2.35"/>
<circle fill="#2759b0" cx="63.6" cy="389.2" r="2.35"/>
<circle fill="#2759b0" cx="59.2" cy="380.0" r="2.35"/>
<circle fill="#2759b0" cx="59.6" cy="381.4" r="2.35"/>
<circle fill="#2759b0" cx="66.7" cy="380.7" r="2.35"/>
<circle fill="#2759b0" cx="65.0" cy="376.1" r="2.35"/>
<circle fill="#2759b0" cx="62.1" cy="390.4" r="2.35"/>
<circle fill="#2759b0" cx="62.1" cy="391.0" r="2.35"/>
<circle fill="#2759b0" cx="73.0" cy="384.4" r="2.35"/>
<circle fill="#2759b0" cx="74.1" cy="383.5" r="2.35"/>
<circle fill="#2759b0" cx="69.0" cy="391.8" r="2.35"/>
<circle fill="#2759b0" cx="73.1" cy="383.1" r="2.35"/>
<circle fill="#2759b0" cx="71.3" cy="377.0" r="2.35"/>
<circle fill="#2759b0" cx="76.7" cy="389.8" r="2.35"/>
<circle fill="#2759b0" cx="72.1" cy="388.5" r="2.35"/>
<circle fill="#2759b0" cx="70.3" cy="388.5" r="2.35"/>
<circle fill="#2759b0" cx="76.6" cy="386.3" r="2.35"/>
<circle fill="#2759b0" cx="67.0" cy="382.9" r="2.35"/>
<circle fill="#2759b0" cx="69.9" cy="384.7" r="2.35"/>
<circle fill="#2759b0" cx="74.0" cy="382.8" r="2.35"/>
<circle fill="#2759b0" cx="70.1" cy="378.1" r="2.35"/>
<circle fill="#2759b0" cx="70.7" cy="383.3" r="2.35"/>
<circle fill="#2759b0" cx="70.2" cy="386.6" r="2.35"/>
<circle fill="#2759b0" cx="72.3" cy="383.1" r="2.35"/>
<circle fill="#2759b0" cx="74.7" cy="388.5" r="2.35"/>
<circle fill="#2759b0" cx="71.5" cy="383.9" r="2.35"/>
<circle fill="#2759b0" cx="73.9" cy="379.9" r="2.35"/>
<circle fill="#2759b0" cx="77.2" cy="379.7" r="2.35"/>
<circle fill="#2759b0" cx="71.4" cy="385.8" r="2.35"/>
<circle fill="#2759b0" cx="73.5" cy="389.9" r="2.35"/>
<circle fill="#2759b0" cx="89.4" cy="390.1" r="2.35"/>
<circle fill="#2759b0" cx="79.1" cy="387.7" r="2.35"/>
<circle fill="#2759b0" cx="84.5" cy="391.5" r="2.35"/>
<circle fill="#2759b0" cx="84.4" cy="379.7" r="2.35"/>
<circle fill="#2759b0" cx="81.2" cy="384.2" r="2.35"/>
<circle fill="#2759b0" cx="88.2" cy="377.0" r="2.35"/>
<circle fill="#2759b0" cx="83.8" cy="387.9" r="2.35"/>
<circle fill="#2759b0" cx="82.7" cy="386.0" r="2.35"/>
<circle fill="#2759b0" cx="82.0" cy="377.4" r="2.35"/>
<circle fill="#2759b0" cx="88.3" cy="385.6" r="2.35"/>
<circle fill="#2759b0" cx="88.7" cy="377.7" r="2.35"/>
<circle fill="#2759b0" cx="88.0" cy="379.7" r="2.35"/>
<circle fill="#2759b0" cx="88.7" cy="383.2" r="2.35"/>
<circle fill="#2759b0" cx="84.2" cy="388.8" r="2.35"/>
<circle fill="#2759b0" cx="84.0" cy="387.3" r="2.35"/>
<circle fill="#2759b0" cx="86.0" cy="376.9" r="2.35"/>
<circle fill="#2759b0" cx="86.7" cy="386.3" r="2.35"/>
<circle fill="#2759b0" cx="83.2" cy="385.4" r="2.35"/>
<circle fill="#2759b0" cx="82.2" cy="387.2" r="2.35"/>
<circle fill="#2759b0" cx="88.5" cy="390.1" r="2.35"/>
<circle fill="#2759b0" cx="93.4" cy="388.1" r="2.35"/>
<circle fill="#2759b0" cx="92.2" cy="389.7" r="2.35"/>
<circle fill="#2759b0" cx="99.1" cy="384.1" r="2.35"/>
<circle fill="#2759b0" cx="91.5" cy="390.0" r="2.35"/>
<circle fill="#2759b0" cx="93.4" cy="389.2" r="2.35"/>
<circle fill="#2759b0" cx="97.1" cy="390.5" r="2.35"/>
<circle fill="#2759b0" cx="96.7" cy="382.7" r="2.35"/>
<circle fill="#2759b0" cx="97.2" cy="378.4" r="2.35"/>
<circle fill="#2759b0" cx="95.0" cy="387.0" r="2.35"/>
<circle fill="#2759b0" cx="95.0" cy="380.2" r="2.35"/>
<circle fill="#2759b0" cx="98.8" cy="388.8" r="2.35"/>
<circle fill="#2759b0" cx="97.4" cy="391.5" r="2.35"/>
<circle fill="#2759b0" cx="106.3" cy="383.9" r="2.35"/>
<circle fill="#2759b0" cx="108.9" cy="388.0" r="2.35"/>
<circle fill="#2759b0" cx="109.1" cy="381.4" r="2.35"/>
<circle fill="#2759b0" cx="104.6" cy="390.0" r="2.35"/>
<circle fill="#2759b0" cx="84.9" cy="322.3" r="2.35"/>
<circle fill="#2759b0" cx="68.6" cy="324.7" r="2.35"/>
<circle fill="#2759b0" cx="99.4" cy="316.1" r="2.35"/>
<circle fill="#2759b0" cx="88.4" cy="311.8" r="2.35"/>
<circle fill="#2759b0" cx="86.1" cy="323.1" r="2.35"/>
<circle fill="#2759b0" cx="77.8" cy="319.9" r="2.35"/>
<circle fill="#2759b0" cx="91.8" cy="325.9" r="2.35"/>
<circle fill="#2759b0" cx="79.6" cy="327.9" r="2.35"/>
<circle fill="#2759b0" cx="91.8" cy="309.1" r="2.35"/>
<circle fill="#2759b0" cx="94.7" cy="309.4" r="2.35"/>
<circle fill="#2759b0" cx="51.2" cy="294.7" r="2.35"/>
<circle fill="#2759b0" cx="51.2" cy="312.2" r="2.35"/>
<circle fill="#2759b0" cx="51.2" cy="323.9" r="2.35"/>
<circle fill="#2759b0" cx="51.2" cy="328.5" r="2.35"/>
<circle fill="#2759b0" cx="51.2" cy="333.0" r="2.35"/>
<circle fill="#2759b0" cx="51.2" cy="339.4" r="2.35"/>
<circle fill="#2759b0" cx="51.2" cy="343.8" r="2.35"/>
<circle fill="#2759b0" cx="51.2" cy="350.8" r="2.35"/>
<circle fill="#2759b0" cx="51.2" cy="353.4" r="2.35"/>
<circle fill="#2759b0" cx="51.2" cy="357.3" r="2.35"/>
<circle fill="#2759b0" cx="51.2" cy="360.8" r="2.35"/>
<circle fill="#2759b0" cx="51.2" cy="364.3" r="2.35"/>
<circle fill="#2759b0" cx="51.2" cy="367.8" r="2.35"/>
<circle fill="#2759b0" cx="51.2" cy="373.7" r="2.35"/>
<circle fill="#2759b0" cx="51.2" cy="377.2" r="2.35"/>
<circle fill="#2759b0" cx="51.2" cy="384.2" r="2.35"/>
<circle fill="#2759b0" cx="51.2" cy="387.1" r="2.35"/>
<line x1="51.00" y1="355.28" x2="310.75" y2="383.49" stroke="#151515" stroke-width="1.5"/>
<text transform="translate(3.30 252.80) scale(0.98 1)" font-size="21.6">C</text>
<text x="75.90" y="261.10" font-size="14.3" stroke="#222" stroke-width="0.2" textLength="117.50" lengthAdjust="spacingAndGlyphs">r=-0.129, p&lt;0.001*</text>
<text x="132.90" y="463.30" font-size="14" stroke="#222" stroke-width="0.2" textLength="77.40" lengthAdjust="spacingAndGlyphs" xml:space="preserve">Passive travel</text>
<text transform="translate(14.80 402.40) rotate(-90)" font-size="12.3" stroke="#222" stroke-width="0.2" textLength="113.90" lengthAdjust="spacingAndGlyphs" xml:space="preserve">Total PAQ-C  score</text></g>
<g fill="#222"><path d="M403.00 256.60V423.70M402.50 423.20H679.00" stroke="#666" stroke-width="1.3" fill="none"/>
<path d="M398.20 423.20H403.00M398.20 381.70H403.00M398.20 340.20H403.00M398.20 298.70H403.00M398.20 257.20H403.00M403.00 423.20V428.20M458.10 423.20V428.20M513.20 423.20V428.20M568.30 423.20V428.20M623.40 423.20V428.20M678.50 423.20V428.20" stroke="#666" stroke-width="1.1" fill="none"/>
<text transform="translate(391.40 426.10) scale(0.95 1)" text-anchor="end" font-size="11.3" stroke="#222" stroke-width="0.5">1</text>
<text transform="translate(391.40 384.60) scale(0.95 1)" text-anchor="end" font-size="11.3" stroke="#222" stroke-width="0.5">2</text>
<text transform="translate(391.40 343.10) scale(0.95 1)" text-anchor="end" font-size="11.3" stroke="#222" stroke-width="0.5">3</text>
<text transform="translate(391.40 301.60) scale(0.95 1)" text-anchor="end" font-size="11.3" stroke="#222" stroke-width="0.5">4</text>
<text transform="translate(391.40 260.10) scale(0.95 1)" text-anchor="end" font-size="11.3" stroke="#222" stroke-width="0.5">5</text>
<text transform="translate(403.00 443.70) scale(0.95 1)" text-anchor="middle" font-size="11" stroke="#222" stroke-width="0.5">0</text>
<text transform="translate(458.10 443.70) scale(0.95 1)" text-anchor="middle" font-size="11" stroke="#222" stroke-width="0.5">1</text>
<text transform="translate(513.20 443.70) scale(0.95 1)" text-anchor="middle" font-size="11" stroke="#222" stroke-width="0.5">2</text>
<text transform="translate(568.30 443.70) scale(0.95 1)" text-anchor="middle" font-size="11" stroke="#222" stroke-width="0.5">3</text>
<text transform="translate(623.40 443.70) scale(0.95 1)" text-anchor="middle" font-size="11" stroke="#222" stroke-width="0.5">4</text>
<text transform="translate(678.50 443.70) scale(0.95 1)" text-anchor="middle" font-size="11" stroke="#222" stroke-width="0.5">5</text>
<circle fill="#2759b0" cx="439.5" cy="277.3" r="2.35"/>
<circle fill="#2759b0" cx="403.5" cy="285.8" r="2.35"/>
<circle fill="#2759b0" cx="425.7" cy="294.2" r="2.35"/>
<circle fill="#2759b0" cx="423.1" cy="296.5" r="2.35"/>
<circle fill="#2759b0" cx="430.2" cy="296.7" r="2.35"/>
<circle fill="#2759b0" cx="434.8" cy="296.7" r="2.35"/>
<circle fill="#2759b0" cx="413.8" cy="299.0" r="2.35"/>
<circle fill="#2759b0" cx="417.6" cy="301.6" r="2.35"/>
<circle fill="#2759b0" cx="403.5" cy="305.0" r="2.35"/>
<circle fill="#2759b0" cx="403.5" cy="311.4" r="2.35"/>
<circle fill="#2759b0" cx="403.5" cy="313.9" r="2.35"/>
<circle fill="#2759b0" cx="412.9" cy="308.6" r="2.35"/>
<circle fill="#2759b0" cx="415.0" cy="312.4" r="2.35"/>
<circle fill="#2759b0" cx="409.1" cy="313.5" r="2.35"/>
<circle fill="#2759b0" cx="409.1" cy="316.0" r="2.35"/>
<circle fill="#2759b0" cx="421.4" cy="308.4" r="2.35"/>
<circle fill="#2759b0" cx="430.8" cy="308.0" r="2.35"/>
<circle fill="#2759b0" cx="433.8" cy="312.4" r="2.35"/>
<circle fill="#2759b0" cx="429.1" cy="316.0" r="2.35"/>
<circle fill="#2759b0" cx="439.7" cy="311.2" r="2.35"/>
<circle fill="#2759b0" cx="442.3" cy="315.2" r="2.35"/>
<circle fill="#2759b0" cx="439.7" cy="317.3" r="2.35"/>
<circle fill="#2759b0" cx="448.2" cy="311.2" r="2.35"/>
<circle fill="#2759b0" cx="417.6" cy="318.2" r="2.35"/>
<circle fill="#2759b0" cx="421.8" cy="315.2" r="2.35"/>
<circle fill="#2759b0" cx="422.7" cy="318.2" r="2.35"/>
<circle fill="#2759b0" cx="452.2" cy="292.8" r="2.35"/>
<circle fill="#2759b0" cx="455.6" cy="297.6" r="2.35"/>
<circle fill="#2759b0" cx="483.5" cy="296.7" r="2.35"/>
<circle fill="#2759b0" cx="453.3" cy="313.9" r="2.35"/>
<circle fill="#2759b0" cx="456.7" cy="313.1" r="2.35"/>
<circle fill="#2759b0" cx="460.1" cy="312.2" r="2.35"/>
<circle fill="#2759b0" cx="459.2" cy="316.5" r="2.35"/>
<circle fill="#2759b0" cx="463.0" cy="315.6" r="2.35"/>
<circle fill="#2759b0" cx="459.2" cy="319.9" r="2.35"/>
<circle fill="#2759b0" cx="451.6" cy="321.8" r="2.35"/>
<circle fill="#2759b0" cx="457.9" cy="324.4" r="2.35"/>
<circle fill="#2759b0" cx="452.4" cy="328.2" r="2.35"/>
<circle fill="#2759b0" cx="472.0" cy="326.9" r="2.35"/>
<circle fill="#2759b0" cx="464.8" cy="330.8" r="2.35"/>
<circle fill="#2759b0" cx="463.9" cy="334.2" r="2.35"/>
<circle fill="#2759b0" cx="489.0" cy="331.6" r="2.35"/>
<circle fill="#2759b0" cx="494.1" cy="330.3" r="2.35"/>
<circle fill="#2759b0" cx="503.1" cy="332.9" r="2.35"/>
<circle fill="#2759b0" cx="454.1" cy="333.7" r="2.35"/>
<circle fill="#2759b0" cx="452.4" cy="335.9" r="2.35"/>
<circle fill="#2759b0" cx="454.5" cy="340.6" r="2.35"/>
<circle fill="#2759b0" cx="460.1" cy="341.0" r="2.35"/>
<circle fill="#2759b0" cx="462.6" cy="340.1" r="2.35"/>
<circle fill="#2759b0" cx="465.2" cy="341.8" r="2.35"/>
<circle fill="#2759b0" cx="467.7" cy="341.0" r="2.35"/>
<circle fill="#2759b0" cx="469.4" cy="341.4" r="2.35"/>
<circle fill="#2759b0" cx="464.8" cy="344.4" r="2.35"/>
<circle fill="#2759b0" cx="472.8" cy="342.7" r="2.35"/>
<circle fill="#2759b0" cx="453.3" cy="346.1" r="2.35"/>
<circle fill="#2759b0" cx="456.7" cy="345.2" r="2.35"/>
<circle fill="#2759b0" cx="483.5" cy="345.2" r="2.35"/>
<circle fill="#2759b0" cx="490.3" cy="346.5" r="2.35"/>
<circle fill="#2759b0" cx="502.6" cy="346.5" r="2.35"/>
<circle fill="#2759b0" cx="474.1" cy="348.6" r="2.35"/>
<circle fill="#2759b0" cx="457.5" cy="352.0" r="2.35"/>
<circle fill="#2759b0" cx="460.9" cy="353.7" r="2.35"/>
<circle fill="#2759b0" cx="463.5" cy="355.4" r="2.35"/>
<circle fill="#2759b0" cx="466.0" cy="353.7" r="2.35"/>
<circle fill="#2759b0" cx="467.7" cy="352.9" r="2.35"/>
<circle fill="#2759b0" cx="462.6" cy="357.1" r="2.35"/>
<circle fill="#2759b0" cx="452.4" cy="358.9" r="2.35"/>
<circle fill="#2759b0" cx="476.2" cy="359.7" r="2.35"/>
<circle fill="#2759b0" cx="482.2" cy="358.4" r="2.35"/>
<circle fill="#2759b0" cx="495.0" cy="355.9" r="2.35"/>
<circle fill="#2759b0" cx="500.1" cy="354.6" r="2.35"/>
<circle fill="#2759b0" cx="488.2" cy="363.1" r="2.35"/>
<circle fill="#2759b0" cx="451.6" cy="364.0" r="2.35"/>
<circle fill="#2759b0" cx="454.1" cy="365.2" r="2.35"/>
<circle fill="#2759b0" cx="468.6" cy="364.4" r="2.35"/>
<circle fill="#2759b0" cx="472.8" cy="365.7" r="2.35"/>
<circle fill="#2759b0" cx="497.5" cy="368.2" r="2.35"/>
<circle fill="#2759b0" cx="459.2" cy="368.2" r="2.35"/>
<circle fill="#2759b0" cx="462.6" cy="368.2" r="2.35"/>
<circle fill="#2759b0" cx="458.4" cy="371.2" r="2.35"/>
<circle fill="#2759b0" cx="460.9" cy="371.6" r="2.35"/>
<circle fill="#2759b0" cx="483.1" cy="369.9" r="2.35"/>
<circle fill="#2759b0" cx="485.6" cy="369.1" r="2.35"/>
<circle fill="#2759b0" cx="466.0" cy="374.2" r="2.35"/>
<circle fill="#2759b0" cx="476.2" cy="374.2" r="2.35"/>
<circle fill="#2759b0" cx="481.4" cy="373.3" r="2.35"/>
<circle fill="#2759b0" cx="484.8" cy="375.9" r="2.35"/>
<circle fill="#2759b0" cx="495.0" cy="375.0" r="2.35"/>
<circle fill="#2759b0" cx="451.6" cy="375.0" r="2.35"/>
<circle fill="#2759b0" cx="403.2" cy="377.2" r="2.35"/>
<circle fill="#2759b0" cx="403.2" cy="381.2" r="2.35"/>
<circle fill="#2759b0" cx="403.2" cy="384.4" r="2.35"/>
<circle fill="#2759b0" cx="403.2" cy="387.6" r="2.35"/>
<circle fill="#2759b0" cx="403.2" cy="394.9" r="2.35"/>
<circle fill="#2759b0" cx="403.6" cy="397.3" r="2.35"/>
<circle fill="#2759b0" cx="405.2" cy="399.7" r="2.35"/>
<circle fill="#2759b0" cx="406.0" cy="382.0" r="2.35"/>
<circle fill="#2759b0" cx="407.6" cy="385.2" r="2.35"/>
<circle fill="#2759b0" cx="408.4" cy="393.3" r="2.35"/>
<circle fill="#2759b0" cx="412.5" cy="392.5" r="2.35"/>
<circle fill="#2759b0" cx="410.0" cy="378.8" r="2.35"/>
<circle fill="#2759b0" cx="412.5" cy="381.2" r="2.35"/>
<circle fill="#2759b0" cx="414.1" cy="384.4" r="2.35"/>
<circle fill="#2759b0" cx="415.7" cy="377.2" r="2.35"/>
<circle fill="#2759b0" cx="417.3" cy="380.4" r="2.35"/>
<circle fill="#2759b0" cx="418.1" cy="383.6" r="2.35"/>
<circle fill="#2759b0" cx="417.3" cy="387.6" r="2.35"/>
<circle fill="#2759b0" cx="416.5" cy="391.7" r="2.35"/>
<circle fill="#2759b0" cx="418.9" cy="394.1" r="2.35"/>
<circle fill="#2759b0" cx="420.5" cy="390.0" r="2.35"/>
<circle fill="#2759b0" cx="422.1" cy="386.8" r="2.35"/>
<circle fill="#2759b0" cx="422.1" cy="377.2" r="2.35"/>
<circle fill="#2759b0" cx="425.3" cy="378.8" r="2.35"/>
<circle fill="#2759b0" cx="426.9" cy="382.0" r="2.35"/>
<circle fill="#2759b0" cx="424.5" cy="394.1" r="2.35"/>
<circle fill="#2759b0" cx="426.1" cy="396.5" r="2.35"/>
<circle fill="#2759b0" cx="428.5" cy="395.7" r="2.35"/>
<circle fill="#2759b0" cx="430.1" cy="388.4" r="2.35"/>
<circle fill="#2759b0" cx="431.7" cy="385.2" r="2.35"/>
<circle fill="#2759b0" cx="433.3" cy="382.0" r="2.35"/>
<circle fill="#2759b0" cx="431.7" cy="377.2" r="2.35"/>
<circle fill="#2759b0" cx="436.5" cy="377.2" r="2.35"/>
<circle fill="#2759b0" cx="439.8" cy="380.4" r="2.35"/>
<circle fill="#2759b0" cx="443.0" cy="383.6" r="2.35"/>
<circle fill="#2759b0" cx="441.4" cy="377.2" r="2.35"/>
<circle fill="#2759b0" cx="446.2" cy="378.8" r="2.35"/>
<circle fill="#2759b0" cx="447.8" cy="383.6" r="2.35"/>
<circle fill="#2759b0" cx="449.4" cy="388.4" r="2.35"/>
<circle fill="#2759b0" cx="447.8" cy="393.3" r="2.35"/>
<circle fill="#2759b0" cx="444.6" cy="397.3" r="2.35"/>
<circle fill="#2759b0" cx="449.4" cy="399.7" r="2.35"/>
<circle fill="#2759b0" cx="434.9" cy="393.3" r="2.35"/>
<circle fill="#2759b0" cx="438.1" cy="394.1" r="2.35"/>
<circle fill="#2759b0" cx="439.8" cy="397.3" r="2.35"/>
<circle fill="#2759b0" cx="416.5" cy="402.1" r="2.35"/>
<circle fill="#2759b0" cx="419.7" cy="402.1" r="2.35"/>
<circle fill="#2759b0" cx="422.9" cy="401.3" r="2.35"/>
<circle fill="#2759b0" cx="418.9" cy="405.3" r="2.35"/>
<circle fill="#2759b0" cx="418.1" cy="408.5" r="2.35"/>
<circle fill="#2759b0" cx="431.7" cy="403.7" r="2.35"/>
<circle fill="#2759b0" cx="433.3" cy="405.3" r="2.35"/>
<circle fill="#2759b0" cx="434.9" cy="402.9" r="2.35"/>
<circle fill="#2759b0" cx="439.8" cy="403.7" r="2.35"/>
<circle fill="#2759b0" cx="409.2" cy="409.3" r="2.35"/>
<circle fill="#2759b0" cx="403.2" cy="411.7" r="2.35"/>
<circle fill="#2759b0" cx="411.7" cy="415.3" r="2.35"/>
<circle fill="#2759b0" cx="451.4" cy="377.2" r="2.35"/>
<circle fill="#2759b0" cx="453.8" cy="380.4" r="2.35"/>
<circle fill="#2759b0" cx="451.4" cy="384.4" r="2.35"/>
<circle fill="#2759b0" cx="453.8" cy="387.6" r="2.35"/>
<circle fill="#2759b0" cx="451.4" cy="391.7" r="2.35"/>
<circle fill="#2759b0" cx="455.4" cy="386.8" r="2.35"/>
<circle fill="#2759b0" cx="457.8" cy="386.0" r="2.35"/>
<circle fill="#2759b0" cx="459.4" cy="384.4" r="2.35"/>
<circle fill="#2759b0" cx="461.8" cy="380.4" r="2.35"/>
<circle fill="#2759b0" cx="462.7" cy="390.9" r="2.35"/>
<circle fill="#2759b0" cx="465.1" cy="392.5" r="2.35"/>
<circle fill="#2759b0" cx="466.7" cy="383.6" r="2.35"/>
<circle fill="#2759b0" cx="468.3" cy="381.2" r="2.35"/>
<circle fill="#2759b0" cx="468.3" cy="386.0" r="2.35"/>
<circle fill="#2759b0" cx="468.3" cy="388.4" r="2.35"/>
<circle fill="#2759b0" cx="469.9" cy="393.3" r="2.35"/>
<circle fill="#2759b0" cx="471.5" cy="394.9" r="2.35"/>
<circle fill="#2759b0" cx="474.7" cy="395.7" r="2.35"/>
<circle fill="#2759b0" cx="473.1" cy="386.0" r="2.35"/>
<circle fill="#2759b0" cx="474.7" cy="376.4" r="2.35"/>
<circle fill="#2759b0" cx="477.1" cy="381.2" r="2.35"/>
<circle fill="#2759b0" cx="478.7" cy="382.8" r="2.35"/>
<circle fill="#2759b0" cx="481.9" cy="377.2" r="2.35"/>
<circle fill="#2759b0" cx="485.9" cy="377.2" r="2.35"/>
<circle fill="#2759b0" cx="489.1" cy="378.0" r="2.35"/>
<circle fill="#2759b0" cx="487.9" cy="382.8" r="2.35"/>
<circle fill="#2759b0" cx="481.1" cy="388.8" r="2.35"/>
<circle fill="#2759b0" cx="492.8" cy="388.8" r="2.35"/>
<circle fill="#2759b0" cx="485.5" cy="394.9" r="2.35"/>
<circle fill="#2759b0" cx="499.2" cy="392.5" r="2.35"/>
<circle fill="#2759b0" cx="502.4" cy="395.7" r="2.35"/>
<circle fill="#2759b0" cx="502.0" cy="383.6" r="2.35"/>
<circle fill="#2759b0" cx="503.6" cy="380.4" r="2.35"/>
<circle fill="#2759b0" cx="457.8" cy="395.7" r="2.35"/>
<circle fill="#2759b0" cx="462.7" cy="398.1" r="2.35"/>
<circle fill="#2759b0" cx="464.3" cy="401.3" r="2.35"/>
<circle fill="#2759b0" cx="466.7" cy="403.7" r="2.35"/>
<circle fill="#2759b0" cx="469.1" cy="404.5" r="2.35"/>
<circle fill="#2759b0" cx="470.7" cy="402.9" r="2.35"/>
<circle fill="#2759b0" cx="458.6" cy="405.3" r="2.35"/>
<circle fill="#2759b0" cx="457.8" cy="407.7" r="2.35"/>
<circle fill="#2759b0" cx="458.6" cy="414.9" r="2.35"/>
<circle fill="#2759b0" cx="485.5" cy="403.3" r="2.35"/>
<circle fill="#2759b0" cx="487.9" cy="408.5" r="2.35"/>
<circle fill="#2759b0" cx="457.0" cy="382.0" r="2.35"/>
<circle fill="#2759b0" cx="523.8" cy="299.0" r="2.35"/>
<circle fill="#2759b0" cx="541.2" cy="319.3" r="2.35"/>
<circle fill="#2759b0" cx="504.2" cy="333.0" r="2.35"/>
<circle fill="#2759b0" cx="508.1" cy="339.0" r="2.35"/>
<circle fill="#2759b0" cx="513.4" cy="342.5" r="2.35"/>
<circle fill="#2759b0" cx="516.9" cy="346.4" r="2.35"/>
<circle fill="#2759b0" cx="508.8" cy="352.2" r="2.35"/>
<circle fill="#2759b0" cx="525.0" cy="356.8" r="2.35"/>
<circle fill="#2759b0" cx="532.4" cy="362.1" r="2.35"/>
<circle fill="#2759b0" cx="567.8" cy="351.0" r="2.35"/>
<circle fill="#2759b0" cx="585.1" cy="375.3" r="2.35"/>
<circle fill="#2759b0" cx="522.0" cy="368.8" r="2.35"/>
<circle fill="#2759b0" cx="518.5" cy="371.8" r="2.35"/>
<circle fill="#2759b0" cx="513.4" cy="374.6" r="2.35"/>
<circle fill="#2759b0" cx="504.6" cy="379.2" r="2.35"/>
<circle fill="#2759b0" cx="515.0" cy="381.1" r="2.35"/>
<circle fill="#2759b0" cx="515.7" cy="382.2" r="2.35"/>
<circle fill="#2759b0" cx="525.0" cy="382.2" r="2.35"/>
<circle fill="#2759b0" cx="538.2" cy="385.2" r="2.35"/>
<circle fill="#2759b0" cx="537.0" cy="386.9" r="2.35"/>
<circle fill="#2759b0" cx="533.5" cy="389.9" r="2.35"/>
<circle fill="#2759b0" cx="557.4" cy="383.8" r="2.35"/>
<circle fill="#2759b0" cx="559.7" cy="388.7" r="2.35"/>
<circle fill="#2759b0" cx="505.1" cy="390.8" r="2.35"/>
<circle fill="#2759b0" cx="513.4" cy="398.4" r="2.35"/>
<circle fill="#2759b0" cx="552.1" cy="405.8" r="2.35"/>
<circle fill="#2759b0" cx="668.6" cy="365.6" r="2.35"/>
<circle fill="#2759b0" cx="407.0" cy="333.7" r="2.35"/>
<circle fill="#2759b0" cx="411.5" cy="320.4" r="2.35"/>
<circle fill="#2759b0" cx="414.3" cy="323.4" r="2.35"/>
<circle fill="#2759b0" cx="412.5" cy="329.8" r="2.35"/>
<circle fill="#2759b0" cx="413.3" cy="335.0" r="2.35"/>
<circle fill="#2759b0" cx="409.5" cy="321.5" r="2.35"/>
<circle fill="#2759b0" cx="413.4" cy="328.7" r="2.35"/>
<circle fill="#2759b0" cx="410.8" cy="321.4" r="2.35"/>
<circle fill="#2759b0" cx="411.7" cy="321.4" r="2.35"/>
<circle fill="#2759b0" cx="423.3" cy="332.8" r="2.35"/>
<circle fill="#2759b0" cx="424.8" cy="324.8" r="2.35"/>
<circle fill="#2759b0" cx="426.5" cy="325.6" r="2.35"/>
<circle fill="#2759b0" cx="424.6" cy="333.3" r="2.35"/>
<circle fill="#2759b0" cx="425.2" cy="332.4" r="2.35"/>
<circle fill="#2759b0" cx="420.0" cy="320.7" r="2.35"/>
<circle fill="#2759b0" cx="421.2" cy="324.7" r="2.35"/>
<circle fill="#2759b0" cx="421.7" cy="334.3" r="2.35"/>
<circle fill="#2759b0" cx="422.4" cy="334.1" r="2.35"/>
<circle fill="#2759b0" cx="432.7" cy="326.5" r="2.35"/>
<circle fill="#2759b0" cx="433.7" cy="329.1" r="2.35"/>
<circle fill="#2759b0" cx="434.5" cy="322.2" r="2.35"/>
<circle fill="#2759b0" cx="431.9" cy="330.0" r="2.35"/>
<circle fill="#2759b0" cx="429.9" cy="334.9" r="2.35"/>
<circle fill="#2759b0" cx="433.7" cy="334.2" r="2.35"/>
<circle fill="#2759b0" cx="435.2" cy="335.0" r="2.35"/>
<circle fill="#2759b0" cx="431.0" cy="324.3" r="2.35"/>
<circle fill="#2759b0" cx="430.2" cy="330.9" r="2.35"/>
<circle fill="#2759b0" cx="444.9" cy="334.3" r="2.35"/>
<circle fill="#2759b0" cx="443.3" cy="320.4" r="2.35"/>
<circle fill="#2759b0" cx="446.8" cy="329.9" r="2.35"/>
<circle fill="#2759b0" cx="448.6" cy="330.4" r="2.35"/>
<circle fill="#2759b0" cx="444.4" cy="321.4" r="2.35"/>
<circle fill="#2759b0" cx="447.2" cy="328.6" r="2.35"/>
<circle fill="#2759b0" cx="447.2" cy="321.7" r="2.35"/>
<circle fill="#2759b0" cx="446.4" cy="331.7" r="2.35"/>
<circle fill="#2759b0" cx="449.1" cy="323.2" r="2.35"/>
<circle fill="#2759b0" cx="413.6" cy="348.1" r="2.35"/>
<circle fill="#2759b0" cx="409.2" cy="344.5" r="2.35"/>
<circle fill="#2759b0" cx="407.1" cy="337.8" r="2.35"/>
<circle fill="#2759b0" cx="408.2" cy="348.8" r="2.35"/>
<circle fill="#2759b0" cx="409.8" cy="344.0" r="2.35"/>
<circle fill="#2759b0" cx="411.9" cy="342.9" r="2.35"/>
<circle fill="#2759b0" cx="409.3" cy="346.8" r="2.35"/>
<circle fill="#2759b0" cx="411.2" cy="339.3" r="2.35"/>
<circle fill="#2759b0" cx="413.8" cy="347.7" r="2.35"/>
<circle fill="#2759b0" cx="421.9" cy="335.5" r="2.35"/>
<circle fill="#2759b0" cx="424.5" cy="338.1" r="2.35"/>
<circle fill="#2759b0" cx="424.7" cy="345.0" r="2.35"/>
<circle fill="#2759b0" cx="425.5" cy="347.4" r="2.35"/>
<circle fill="#2759b0" cx="421.3" cy="339.0" r="2.35"/>
<circle fill="#2759b0" cx="425.2" cy="344.0" r="2.35"/>
<circle fill="#2759b0" cx="424.3" cy="344.5" r="2.35"/>
<circle fill="#2759b0" cx="426.0" cy="344.8" r="2.35"/>
<circle fill="#2759b0" cx="424.2" cy="345.3" r="2.35"/>
<circle fill="#2759b0" cx="438.3" cy="344.9" r="2.35"/>
<circle fill="#2759b0" cx="432.9" cy="344.6" r="2.35"/>
<circle fill="#2759b0" cx="430.3" cy="340.8" r="2.35"/>
<circle fill="#2759b0" cx="435.0" cy="338.4" r="2.35"/>
<circle fill="#2759b0" cx="430.3" cy="346.9" r="2.35"/>
<circle fill="#2759b0" cx="433.5" cy="335.1" r="2.35"/>
<circle fill="#2759b0" cx="433.9" cy="344.1" r="2.35"/>
<circle fill="#2759b0" cx="439.0" cy="344.2" r="2.35"/>
<circle fill="#2759b0" cx="444.1" cy="343.7" r="2.35"/>
<circle fill="#2759b0" cx="443.5" cy="343.9" r="2.35"/>
<circle fill="#2759b0" cx="449.4" cy="336.1" r="2.35"/>
<circle fill="#2759b0" cx="448.3" cy="344.8" r="2.35"/>
<circle fill="#2759b0" cx="449.6" cy="339.4" r="2.35"/>
<circle fill="#2759b0" cx="442.0" cy="337.7" r="2.35"/>
<circle fill="#2759b0" cx="441.9" cy="347.0" r="2.35"/>
<circle fill="#2759b0" cx="449.9" cy="345.3" r="2.35"/>
<circle fill="#2759b0" cx="443.8" cy="345.3" r="2.35"/>
<circle fill="#2759b0" cx="410.2" cy="360.3" r="2.35"/>
<circle fill="#2759b0" cx="411.7" cy="363.1" r="2.35"/>
<circle fill="#2759b0" cx="412.6" cy="358.7" r="2.35"/>
<circle fill="#2759b0" cx="408.9" cy="351.8" r="2.35"/>
<circle fill="#2759b0" cx="406.1" cy="361.1" r="2.35"/>
<circle fill="#2759b0" cx="405.8" cy="357.5" r="2.35"/>
<circle fill="#2759b0" cx="426.6" cy="358.2" r="2.35"/>
<circle fill="#2759b0" cx="422.6" cy="361.4" r="2.35"/>
<circle fill="#2759b0" cx="424.5" cy="364.7" r="2.35"/>
<circle fill="#2759b0" cx="421.0" cy="360.4" r="2.35"/>
<circle fill="#2759b0" cx="419.2" cy="362.3" r="2.35"/>
<circle fill="#2759b0" cx="421.8" cy="360.9" r="2.35"/>
<circle fill="#2759b0" cx="425.6" cy="364.3" r="2.35"/>
<circle fill="#2759b0" cx="426.8" cy="358.1" r="2.35"/>
<circle fill="#2759b0" cx="418.5" cy="350.7" r="2.35"/>
<circle fill="#2759b0" cx="424.5" cy="352.4" r="2.35"/>
<circle fill="#2759b0" cx="425.8" cy="352.8" r="2.35"/>
<circle fill="#2759b0" cx="437.0" cy="361.6" r="2.35"/>
<circle fill="#2759b0" cx="429.6" cy="357.1" r="2.35"/>
<circle fill="#2759b0" cx="434.6" cy="355.2" r="2.35"/>
<circle fill="#2759b0" cx="436.4" cy="355.3" r="2.35"/>
<circle fill="#2759b0" cx="433.8" cy="360.2" r="2.35"/>
<circle fill="#2759b0" cx="436.6" cy="362.2" r="2.35"/>
<circle fill="#2759b0" cx="435.4" cy="350.5" r="2.35"/>
<circle fill="#2759b0" cx="445.0" cy="353.0" r="2.35"/>
<circle fill="#2759b0" cx="447.4" cy="360.5" r="2.35"/>
<circle fill="#2759b0" cx="450.3" cy="358.4" r="2.35"/>
<circle fill="#2759b0" cx="450.2" cy="359.5" r="2.35"/>
<circle fill="#2759b0" cx="449.0" cy="350.5" r="2.35"/>
<circle fill="#2759b0" cx="449.7" cy="354.7" r="2.35"/>
<circle fill="#2759b0" cx="448.1" cy="350.4" r="2.35"/>
<circle fill="#2759b0" cx="443.6" cy="363.2" r="2.35"/>
<circle fill="#2759b0" cx="443.3" cy="360.4" r="2.35"/>
<circle fill="#2759b0" cx="406.7" cy="372.2" r="2.35"/>
<circle fill="#2759b0" cx="405.8" cy="373.4" r="2.35"/>
<circle fill="#2759b0" cx="413.2" cy="366.5" r="2.35"/>
<circle fill="#2759b0" cx="405.9" cy="371.5" r="2.35"/>
<circle fill="#2759b0" cx="407.5" cy="366.5" r="2.35"/>
<circle fill="#2759b0" cx="414.4" cy="374.6" r="2.35"/>
<circle fill="#2759b0" cx="423.3" cy="375.7" r="2.35"/>
<circle fill="#2759b0" cx="425.4" cy="366.8" r="2.35"/>
<circle fill="#2759b0" cx="418.9" cy="367.5" r="2.35"/>
<circle fill="#2759b0" cx="421.8" cy="367.3" r="2.35"/>
<circle fill="#2759b0" cx="424.7" cy="371.0" r="2.35"/>
<circle fill="#2759b0" cx="426.8" cy="373.5" r="2.35"/>
<circle fill="#2759b0" cx="435.5" cy="371.8" r="2.35"/>
<circle fill="#2759b0" cx="437.5" cy="373.3" r="2.35"/>
<circle fill="#2759b0" cx="437.5" cy="374.7" r="2.35"/>
<circle fill="#2759b0" cx="430.8" cy="368.4" r="2.35"/>
<circle fill="#2759b0" cx="434.1" cy="368.9" r="2.35"/>
<circle fill="#2759b0" cx="430.4" cy="365.6" r="2.35"/>
<circle fill="#2759b0" cx="450.6" cy="366.2" r="2.35"/>
<circle fill="#2759b0" cx="444.3" cy="367.3" r="2.35"/>
<circle fill="#2759b0" cx="449.3" cy="376.0" r="2.35"/>
<circle fill="#2759b0" cx="450.9" cy="369.3" r="2.35"/>
<circle fill="#2759b0" cx="443.4" cy="374.3" r="2.35"/>
<circle fill="#2759b0" cx="446.8" cy="369.7" r="2.35"/>
<circle fill="#2759b0" cx="408.9" cy="393.0" r="2.35"/>
<circle fill="#2759b0" cx="436.7" cy="402.8" r="2.35"/>
<circle fill="#2759b0" cx="447.2" cy="391.7" r="2.35"/>
<circle fill="#2759b0" cx="411.0" cy="384.8" r="2.35"/>
<circle fill="#2759b0" cx="434.2" cy="383.1" r="2.35"/>
<circle fill="#2759b0" cx="458.2" cy="398.9" r="2.35"/>
<circle fill="#2759b0" cx="406.6" cy="376.9" r="2.35"/>
<circle fill="#2759b0" cx="437.6" cy="386.2" r="2.35"/>
<circle fill="#2759b0" cx="428.4" cy="376.0" r="2.35"/>
<circle fill="#2759b0" cx="446.7" cy="404.0" r="2.35"/>
<circle fill="#2759b0" cx="428.8" cy="379.5" r="2.35"/>
<circle fill="#2759b0" cx="456.2" cy="380.5" r="2.35"/>
<circle fill="#2759b0" cx="469.4" cy="388.3" r="2.35"/>
<circle fill="#2759b0" cx="424.0" cy="385.6" r="2.35"/>
<circle fill="#2759b0" cx="424.0" cy="389.0" r="2.35"/>
<circle fill="#2759b0" cx="434.6" cy="393.6" r="2.35"/>
<circle fill="#2759b0" cx="454.6" cy="399.4" r="2.35"/>
<circle fill="#2759b0" cx="427.9" cy="390.6" r="2.35"/>
<circle fill="#2759b0" cx="453.6" cy="396.0" r="2.35"/>
<circle fill="#2759b0" cx="420.9" cy="396.0" r="2.35"/>
<circle fill="#2759b0" cx="408.9" cy="301.0" r="2.35"/>
<circle fill="#2759b0" cx="419.1" cy="317.0" r="2.35"/>
<circle fill="#2759b0" cx="456.2" cy="304.7" r="2.35"/>
<circle fill="#2759b0" cx="432.9" cy="304.6" r="2.35"/>
<circle fill="#2759b0" cx="415.9" cy="308.0" r="2.35"/>
<circle fill="#2759b0" cx="446.2" cy="318.6" r="2.35"/>
<circle fill="#2759b0" cx="422.4" cy="308.6" r="2.35"/>
<circle fill="#2759b0" cx="436.1" cy="314.2" r="2.35"/>
<circle fill="#2759b0" cx="441.5" cy="308.3" r="2.35"/>
<circle fill="#2759b0" cx="403.2" cy="321.5" r="2.35"/>
<circle fill="#2759b0" cx="403.2" cy="325.0" r="2.35"/>
<circle fill="#2759b0" cx="403.2" cy="329.7" r="2.35"/>
<circle fill="#2759b0" cx="403.2" cy="334.4" r="2.35"/>
<circle fill="#2759b0" cx="403.2" cy="340.2" r="2.35"/>
<circle fill="#2759b0" cx="403.2" cy="342.6" r="2.35"/>
<circle fill="#2759b0" cx="403.2" cy="350.7" r="2.35"/>
<circle fill="#2759b0" cx="403.2" cy="358.0" r="2.35"/>
<circle fill="#2759b0" cx="403.2" cy="361.0" r="2.35"/>
<circle fill="#2759b0" cx="403.2" cy="364.0" r="2.35"/>
<circle fill="#2759b0" cx="403.2" cy="367.0" r="2.35"/>
<circle fill="#2759b0" cx="403.2" cy="370.0" r="2.35"/>
<circle fill="#2759b0" cx="403.2" cy="373.0" r="2.35"/>
<circle fill="#2759b0" cx="403.2" cy="376.0" r="2.35"/>
<line x1="403.00" y1="353.89" x2="668.58" y2="390.08" stroke="#151515" stroke-width="1.5"/>
<text transform="translate(355.80 253.00) scale(0.98 1)" font-size="21.6">D</text>
<text x="429.20" y="261.20" font-size="14.3" stroke="#222" stroke-width="0.2" textLength="118.20" lengthAdjust="spacingAndGlyphs">r=-0.163, p&lt;0.001*</text>
<text x="490.40" y="463.60" font-size="14" stroke="#222" stroke-width="0.2" textLength="94.70" lengthAdjust="spacingAndGlyphs" xml:space="preserve">Cultural activities</text>
<text transform="translate(368.60 404.60) rotate(-90)" font-size="12.3" stroke="#222" stroke-width="0.2" textLength="114.50" lengthAdjust="spacingAndGlyphs" xml:space="preserve">Total PAQ-C  score</text></g>
<g fill="#222"><path d="M232.40 507.30V664.80M231.90 664.30H512.20" stroke="#666" stroke-width="1.3" fill="none"/>
<path d="M227.60 664.30H232.40M227.60 625.20H232.40M227.60 586.10H232.40M227.60 547.00H232.40M227.60 507.90H232.40M232.40 664.30V669.30M325.50 664.30V669.30M418.60 664.30V669.30M511.70 664.30V669.30" stroke="#666" stroke-width="1.1" fill="none"/>
<text transform="translate(220.80 667.20) scale(0.95 1)" text-anchor="end" font-size="11.3" stroke="#222" stroke-width="0.5">1</text>
<text transform="translate(220.80 628.10) scale(0.95 1)" text-anchor="end" font-size="11.3" stroke="#222" stroke-width="0.5">2</text>
<text transform="translate(220.80 589.00) scale(0.95 1)" text-anchor="end" font-size="11.3" stroke="#222" stroke-width="0.5">3</text>
<text transform="translate(220.80 549.90) scale(0.95 1)" text-anchor="end" font-size="11.3" stroke="#222" stroke-width="0.5">4</text>
<text transform="translate(220.80 510.80) scale(0.95 1)" text-anchor="end" font-size="11.3" stroke="#222" stroke-width="0.5">5</text>
<text transform="translate(232.40 684.80) scale(0.95 1)" text-anchor="middle" font-size="11" stroke="#222" stroke-width="0.5">0</text>
<text transform="translate(325.50 684.80) scale(0.95 1)" text-anchor="middle" font-size="11" stroke="#222" stroke-width="0.5">1</text>
<text transform="translate(418.60 684.80) scale(0.95 1)" text-anchor="middle" font-size="11" stroke="#222" stroke-width="0.5">2</text>
<text transform="translate(511.70 684.80) scale(0.95 1)" text-anchor="middle" font-size="11" stroke="#222" stroke-width="0.5">3</text>
<circle fill="#2759b0" cx="263.5" cy="528.2" r="2.35"/>
<circle fill="#2759b0" cx="249.5" cy="535.6" r="2.35"/>
<circle fill="#2759b0" cx="233.3" cy="547.5" r="2.35"/>
<circle fill="#2759b0" cx="240.3" cy="546.4" r="2.35"/>
<circle fill="#2759b0" cx="244.8" cy="547.7" r="2.35"/>
<circle fill="#2759b0" cx="262.2" cy="545.3" r="2.35"/>
<circle fill="#2759b0" cx="270.9" cy="542.8" r="2.35"/>
<circle fill="#2759b0" cx="271.8" cy="544.2" r="2.35"/>
<circle fill="#2759b0" cx="269.2" cy="547.7" r="2.35"/>
<circle fill="#2759b0" cx="256.5" cy="551.2" r="2.35"/>
<circle fill="#2759b0" cx="241.1" cy="557.3" r="2.35"/>
<circle fill="#2759b0" cx="233.3" cy="559.9" r="2.35"/>
<circle fill="#2759b0" cx="238.1" cy="563.4" r="2.35"/>
<circle fill="#2759b0" cx="246.0" cy="562.1" r="2.35"/>
<circle fill="#2759b0" cx="249.5" cy="564.3" r="2.35"/>
<circle fill="#2759b0" cx="256.5" cy="561.7" r="2.35"/>
<circle fill="#2759b0" cx="255.2" cy="565.6" r="2.35"/>
<circle fill="#2759b0" cx="260.4" cy="564.7" r="2.35"/>
<circle fill="#2759b0" cx="264.8" cy="561.7" r="2.35"/>
<circle fill="#2759b0" cx="266.5" cy="555.1" r="2.35"/>
<circle fill="#2759b0" cx="268.3" cy="557.7" r="2.35"/>
<circle fill="#2759b0" cx="266.5" cy="559.9" r="2.35"/>
<circle fill="#2759b0" cx="269.2" cy="562.6" r="2.35"/>
<circle fill="#2759b0" cx="278.8" cy="564.3" r="2.35"/>
<circle fill="#2759b0" cx="281.4" cy="563.4" r="2.35"/>
<circle fill="#2759b0" cx="285.8" cy="565.2" r="2.35"/>
<circle fill="#2759b0" cx="270.9" cy="566.9" r="2.35"/>
<circle fill="#2759b0" cx="293.6" cy="557.3" r="2.35"/>
<circle fill="#2759b0" cx="293.6" cy="562.4" r="2.35"/>
<circle fill="#2759b0" cx="324.7" cy="546.4" r="2.35"/>
<circle fill="#2759b0" cx="324.7" cy="557.3" r="2.35"/>
<circle fill="#2759b0" cx="323.4" cy="562.6" r="2.35"/>
<circle fill="#2759b0" cx="333.9" cy="560.8" r="2.35"/>
<circle fill="#2759b0" cx="286.6" cy="566.9" r="2.35"/>
<circle fill="#2759b0" cx="290.1" cy="572.1" r="2.35"/>
<circle fill="#2759b0" cx="288.8" cy="575.2" r="2.35"/>
<circle fill="#2759b0" cx="302.4" cy="570.4" r="2.35"/>
<circle fill="#2759b0" cx="303.7" cy="573.0" r="2.35"/>
<circle fill="#2759b0" cx="305.9" cy="573.0" r="2.35"/>
<circle fill="#2759b0" cx="302.8" cy="575.6" r="2.35"/>
<circle fill="#2759b0" cx="300.6" cy="579.1" r="2.35"/>
<circle fill="#2759b0" cx="295.4" cy="580.0" r="2.35"/>
<circle fill="#2759b0" cx="291.0" cy="581.8" r="2.35"/>
<circle fill="#2759b0" cx="289.3" cy="583.5" r="2.35"/>
<circle fill="#2759b0" cx="313.8" cy="573.0" r="2.35"/>
<circle fill="#2759b0" cx="312.9" cy="575.6" r="2.35"/>
<circle fill="#2759b0" cx="320.8" cy="576.5" r="2.35"/>
<circle fill="#2759b0" cx="322.5" cy="578.3" r="2.35"/>
<circle fill="#2759b0" cx="319.9" cy="578.3" r="2.35"/>
<circle fill="#2759b0" cx="326.9" cy="571.3" r="2.35"/>
<circle fill="#2759b0" cx="329.5" cy="572.1" r="2.35"/>
<circle fill="#2759b0" cx="331.3" cy="571.7" r="2.35"/>
<circle fill="#2759b0" cx="312.9" cy="580.5" r="2.35"/>
<circle fill="#2759b0" cx="312.9" cy="586.1" r="2.35"/>
<circle fill="#2759b0" cx="299.8" cy="586.1" r="2.35"/>
<circle fill="#2759b0" cx="297.1" cy="588.8" r="2.35"/>
<circle fill="#2759b0" cx="298.9" cy="591.4" r="2.35"/>
<circle fill="#2759b0" cx="307.7" cy="588.8" r="2.35"/>
<circle fill="#2759b0" cx="309.4" cy="591.4" r="2.35"/>
<circle fill="#2759b0" cx="312.9" cy="592.3" r="2.35"/>
<circle fill="#2759b0" cx="325.2" cy="588.8" r="2.35"/>
<circle fill="#2759b0" cx="327.8" cy="586.1" r="2.35"/>
<circle fill="#2759b0" cx="330.4" cy="585.3" r="2.35"/>
<circle fill="#2759b0" cx="337.4" cy="587.0" r="2.35"/>
<circle fill="#2759b0" cx="340.1" cy="590.5" r="2.35"/>
<circle fill="#2759b0" cx="340.1" cy="592.3" r="2.35"/>
<circle fill="#2759b0" cx="333.1" cy="593.2" r="2.35"/>
<circle fill="#2759b0" cx="301.1" cy="596.7" r="2.35"/>
<circle fill="#2759b0" cx="300.2" cy="598.4" r="2.35"/>
<circle fill="#2759b0" cx="291.0" cy="600.2" r="2.35"/>
<circle fill="#2759b0" cx="293.6" cy="598.8" r="2.35"/>
<circle fill="#2759b0" cx="295.4" cy="598.4" r="2.35"/>
<circle fill="#2759b0" cx="313.8" cy="597.5" r="2.35"/>
<circle fill="#2759b0" cx="316.4" cy="598.4" r="2.35"/>
<circle fill="#2759b0" cx="318.2" cy="597.1" r="2.35"/>
<circle fill="#2759b0" cx="326.9" cy="596.7" r="2.35"/>
<circle fill="#2759b0" cx="326.9" cy="600.2" r="2.35"/>
<circle fill="#2759b0" cx="326.9" cy="603.7" r="2.35"/>
<circle fill="#2759b0" cx="335.7" cy="605.4" r="2.35"/>
<circle fill="#2759b0" cx="341.8" cy="610.2" r="2.35"/>
<circle fill="#2759b0" cx="307.7" cy="605.4" r="2.35"/>
<circle fill="#2759b0" cx="310.3" cy="607.2" r="2.35"/>
<circle fill="#2759b0" cx="319.9" cy="606.3" r="2.35"/>
<circle fill="#2759b0" cx="301.5" cy="611.1" r="2.35"/>
<circle fill="#2759b0" cx="305.9" cy="612.4" r="2.35"/>
<circle fill="#2759b0" cx="312.9" cy="611.5" r="2.35"/>
<circle fill="#2759b0" cx="317.3" cy="612.4" r="2.35"/>
<circle fill="#2759b0" cx="320.8" cy="612.4" r="2.35"/>
<circle fill="#2759b0" cx="326.0" cy="609.8" r="2.35"/>
<circle fill="#2759b0" cx="335.7" cy="611.5" r="2.35"/>
<circle fill="#2759b0" cx="290.1" cy="608.9" r="2.35"/>
<circle fill="#2759b0" cx="291.9" cy="611.5" r="2.35"/>
<circle fill="#2759b0" cx="289.3" cy="614.2" r="2.35"/>
<circle fill="#2759b0" cx="292.8" cy="615.0" r="2.35"/>
<circle fill="#2759b0" cx="294.5" cy="618.6" r="2.35"/>
<circle fill="#2759b0" cx="290.1" cy="618.6" r="2.35"/>
<circle fill="#2759b0" cx="289.3" cy="622.1" r="2.35"/>
<circle fill="#2759b0" cx="312.0" cy="618.6" r="2.35"/>
<circle fill="#2759b0" cx="314.7" cy="620.3" r="2.35"/>
<circle fill="#2759b0" cx="317.3" cy="619.4" r="2.35"/>
<circle fill="#2759b0" cx="326.9" cy="618.6" r="2.35"/>
<circle fill="#2759b0" cx="333.1" cy="621.2" r="2.35"/>
<circle fill="#2759b0" cx="336.6" cy="620.3" r="2.35"/>
<circle fill="#2759b0" cx="340.1" cy="622.1" r="2.35"/>
<circle fill="#2759b0" cx="300.6" cy="622.1" r="2.35"/>
<circle fill="#2759b0" cx="310.3" cy="622.1" r="2.35"/>
<circle fill="#2759b0" cx="320.8" cy="623.8" r="2.35"/>
<circle fill="#2759b0" cx="327.8" cy="623.8" r="2.35"/>
<circle fill="#2759b0" cx="338.3" cy="624.7" r="2.35"/>
<circle fill="#2759b0" cx="233.3" cy="627.3" r="2.35"/>
<circle fill="#2759b0" cx="233.3" cy="630.8" r="2.35"/>
<circle fill="#2759b0" cx="233.3" cy="633.4" r="2.35"/>
<circle fill="#2759b0" cx="233.3" cy="637.8" r="2.35"/>
<circle fill="#2759b0" cx="233.3" cy="645.7" r="2.35"/>
<circle fill="#2759b0" cx="241.1" cy="629.9" r="2.35"/>
<circle fill="#2759b0" cx="243.8" cy="627.7" r="2.35"/>
<circle fill="#2759b0" cx="247.3" cy="633.4" r="2.35"/>
<circle fill="#2759b0" cx="243.8" cy="638.2" r="2.35"/>
<circle fill="#2759b0" cx="247.3" cy="637.8" r="2.35"/>
<circle fill="#2759b0" cx="247.3" cy="645.7" r="2.35"/>
<circle fill="#2759b0" cx="255.2" cy="627.3" r="2.35"/>
<circle fill="#2759b0" cx="256.0" cy="637.8" r="2.35"/>
<circle fill="#2759b0" cx="259.5" cy="637.3" r="2.35"/>
<circle fill="#2759b0" cx="263.0" cy="636.9" r="2.35"/>
<circle fill="#2759b0" cx="263.9" cy="632.5" r="2.35"/>
<circle fill="#2759b0" cx="266.5" cy="629.9" r="2.35"/>
<circle fill="#2759b0" cx="270.0" cy="629.0" r="2.35"/>
<circle fill="#2759b0" cx="271.8" cy="633.4" r="2.35"/>
<circle fill="#2759b0" cx="271.8" cy="639.5" r="2.35"/>
<circle fill="#2759b0" cx="271.8" cy="643.0" r="2.35"/>
<circle fill="#2759b0" cx="264.8" cy="645.2" r="2.35"/>
<circle fill="#2759b0" cx="256.0" cy="650.0" r="2.35"/>
<circle fill="#2759b0" cx="276.2" cy="636.9" r="2.35"/>
<circle fill="#2759b0" cx="277.9" cy="642.2" r="2.35"/>
<circle fill="#2759b0" cx="280.6" cy="643.0" r="2.35"/>
<circle fill="#2759b0" cx="284.1" cy="640.4" r="2.35"/>
<circle fill="#2759b0" cx="279.7" cy="648.3" r="2.35"/>
<circle fill="#2759b0" cx="281.4" cy="646.5" r="2.35"/>
<circle fill="#2759b0" cx="278.8" cy="650.9" r="2.35"/>
<circle fill="#2759b0" cx="280.6" cy="655.3" r="2.35"/>
<circle fill="#2759b0" cx="282.3" cy="657.0" r="2.35"/>
<circle fill="#2759b0" cx="287.6" cy="638.6" r="2.35"/>
<circle fill="#2759b0" cx="277.1" cy="628.1" r="2.35"/>
<circle fill="#2759b0" cx="280.6" cy="630.8" r="2.35"/>
<circle fill="#2759b0" cx="284.9" cy="627.3" r="2.35"/>
<circle fill="#2759b0" cx="269.2" cy="626.4" r="2.35"/>
<circle fill="#2759b0" cx="292.8" cy="627.3" r="2.35"/>
<circle fill="#2759b0" cx="293.6" cy="629.9" r="2.35"/>
<circle fill="#2759b0" cx="295.4" cy="631.6" r="2.35"/>
<circle fill="#2759b0" cx="298.0" cy="629.0" r="2.35"/>
<circle fill="#2759b0" cx="300.6" cy="627.3" r="2.35"/>
<circle fill="#2759b0" cx="297.1" cy="635.1" r="2.35"/>
<circle fill="#2759b0" cx="299.8" cy="636.9" r="2.35"/>
<circle fill="#2759b0" cx="302.4" cy="635.1" r="2.35"/>
<circle fill="#2759b0" cx="305.0" cy="626.4" r="2.35"/>
<circle fill="#2759b0" cx="306.8" cy="632.5" r="2.35"/>
<circle fill="#2759b0" cx="304.1" cy="637.8" r="2.35"/>
<circle fill="#2759b0" cx="306.8" cy="639.5" r="2.35"/>
<circle fill="#2759b0" cx="309.4" cy="640.4" r="2.35"/>
<circle fill="#2759b0" cx="311.2" cy="643.0" r="2.35"/>
<circle fill="#2759b0" cx="313.8" cy="643.0" r="2.35"/>
<circle fill="#2759b0" cx="310.3" cy="645.7" r="2.35"/>
<circle fill="#2759b0" cx="315.5" cy="645.7" r="2.35"/>
<circle fill="#2759b0" cx="312.9" cy="650.9" r="2.35"/>
<circle fill="#2759b0" cx="311.2" cy="629.9" r="2.35"/>
<circle fill="#2759b0" cx="315.5" cy="630.3" r="2.35"/>
<circle fill="#2759b0" cx="314.7" cy="635.1" r="2.35"/>
<circle fill="#2759b0" cx="312.9" cy="637.8" r="2.35"/>
<circle fill="#2759b0" cx="320.8" cy="628.1" r="2.35"/>
<circle fill="#2759b0" cx="322.5" cy="626.4" r="2.35"/>
<circle fill="#2759b0" cx="326.9" cy="627.3" r="2.35"/>
<circle fill="#2759b0" cx="327.8" cy="631.6" r="2.35"/>
<circle fill="#2759b0" cx="329.5" cy="631.6" r="2.35"/>
<circle fill="#2759b0" cx="327.8" cy="635.1" r="2.35"/>
<circle fill="#2759b0" cx="326.9" cy="639.5" r="2.35"/>
<circle fill="#2759b0" cx="326.9" cy="643.9" r="2.35"/>
<circle fill="#2759b0" cx="326.0" cy="651.8" r="2.35"/>
<circle fill="#2759b0" cx="326.9" cy="656.6" r="2.35"/>
<circle fill="#2759b0" cx="335.2" cy="630.3" r="2.35"/>
<circle fill="#2759b0" cx="335.2" cy="637.3" r="2.35"/>
<circle fill="#2759b0" cx="338.7" cy="649.2" r="2.35"/>
<circle fill="#2759b0" cx="340.9" cy="626.4" r="2.35"/>
<circle fill="#2759b0" cx="289.3" cy="638.6" r="2.35"/>
<circle fill="#2759b0" cx="289.3" cy="647.0" r="2.35"/>
<circle fill="#2759b0" cx="293.6" cy="646.1" r="2.35"/>
<circle fill="#2759b0" cx="300.6" cy="646.1" r="2.35"/>
<circle fill="#2759b0" cx="305.9" cy="648.3" r="2.35"/>
<circle fill="#2759b0" cx="346.8" cy="582.7" r="2.35"/>
<circle fill="#2759b0" cx="352.6" cy="583.7" r="2.35"/>
<circle fill="#2759b0" cx="351.5" cy="592.4" r="2.35"/>
<circle fill="#2759b0" cx="371.0" cy="590.0" r="2.35"/>
<circle fill="#2759b0" cx="353.7" cy="602.0" r="2.35"/>
<circle fill="#2759b0" cx="373.7" cy="600.9" r="2.35"/>
<circle fill="#2759b0" cx="351.5" cy="608.2" r="2.35"/>
<circle fill="#2759b0" cx="373.7" cy="614.1" r="2.35"/>
<circle fill="#2759b0" cx="358.3" cy="617.6" r="2.35"/>
<circle fill="#2759b0" cx="366.7" cy="616.3" r="2.35"/>
<circle fill="#2759b0" cx="354.1" cy="619.3" r="2.35"/>
<circle fill="#2759b0" cx="375.9" cy="620.2" r="2.35"/>
<circle fill="#2759b0" cx="353.7" cy="623.8" r="2.35"/>
<circle fill="#2759b0" cx="357.0" cy="630.0" r="2.35"/>
<circle fill="#2759b0" cx="349.1" cy="635.9" r="2.35"/>
<circle fill="#2759b0" cx="353.0" cy="633.9" r="2.35"/>
<circle fill="#2759b0" cx="354.4" cy="636.6" r="2.35"/>
<circle fill="#2759b0" cx="353.0" cy="639.2" r="2.35"/>
<circle fill="#2759b0" cx="353.7" cy="642.4" r="2.35"/>
<circle fill="#2759b0" cx="358.3" cy="634.6" r="2.35"/>
<circle fill="#2759b0" cx="366.7" cy="636.3" r="2.35"/>
<circle fill="#2759b0" cx="380.7" cy="630.0" r="2.35"/>
<circle fill="#2759b0" cx="379.1" cy="639.6" r="2.35"/>
<circle fill="#2759b0" cx="379.1" cy="645.4" r="2.35"/>
<circle fill="#2759b0" cx="375.9" cy="648.3" r="2.35"/>
<circle fill="#2759b0" cx="350.4" cy="658.1" r="2.35"/>
<circle fill="#2759b0" cx="399.3" cy="639.6" r="2.35"/>
<circle fill="#2759b0" cx="393.1" cy="559.3" r="2.35"/>
<circle fill="#2759b0" cx="402.3" cy="619.8" r="2.35"/>
<circle fill="#2759b0" cx="402.3" cy="622.2" r="2.35"/>
<circle fill="#2759b0" cx="419.5" cy="623.5" r="2.35"/>
<circle fill="#2759b0" cx="434.6" cy="626.2" r="2.35"/>
<circle fill="#2759b0" cx="444.9" cy="633.4" r="2.35"/>
<circle fill="#2759b0" cx="455.7" cy="629.8" r="2.35"/>
<circle fill="#2759b0" cx="457.9" cy="626.2" r="2.35"/>
<circle fill="#2759b0" cx="512.8" cy="632.5" r="2.35"/>
<circle fill="#2759b0" cx="512.8" cy="637.4" r="2.35"/>
<circle fill="#2759b0" cx="239.4" cy="581.7" r="2.35"/>
<circle fill="#2759b0" cx="242.7" cy="576.1" r="2.35"/>
<circle fill="#2759b0" cx="236.9" cy="581.0" r="2.35"/>
<circle fill="#2759b0" cx="240.0" cy="570.4" r="2.35"/>
<circle fill="#2759b0" cx="243.2" cy="570.3" r="2.35"/>
<circle fill="#2759b0" cx="241.3" cy="568.8" r="2.35"/>
<circle fill="#2759b0" cx="258.8" cy="577.3" r="2.35"/>
<circle fill="#2759b0" cx="255.1" cy="578.0" r="2.35"/>
<circle fill="#2759b0" cx="253.0" cy="574.9" r="2.35"/>
<circle fill="#2759b0" cx="255.9" cy="572.9" r="2.35"/>
<circle fill="#2759b0" cx="253.0" cy="578.1" r="2.35"/>
<circle fill="#2759b0" cx="248.4" cy="579.0" r="2.35"/>
<circle fill="#2759b0" cx="258.9" cy="579.9" r="2.35"/>
<circle fill="#2759b0" cx="250.7" cy="577.6" r="2.35"/>
<circle fill="#2759b0" cx="253.9" cy="573.6" r="2.35"/>
<circle fill="#2759b0" cx="257.2" cy="572.0" r="2.35"/>
<circle fill="#2759b0" cx="257.8" cy="579.2" r="2.35"/>
<circle fill="#2759b0" cx="249.2" cy="568.6" r="2.35"/>
<circle fill="#2759b0" cx="247.9" cy="572.2" r="2.35"/>
<circle fill="#2759b0" cx="271.3" cy="575.0" r="2.35"/>
<circle fill="#2759b0" cx="272.2" cy="579.3" r="2.35"/>
<circle fill="#2759b0" cx="261.7" cy="581.1" r="2.35"/>
<circle fill="#2759b0" cx="274.6" cy="569.6" r="2.35"/>
<circle fill="#2759b0" cx="272.7" cy="568.5" r="2.35"/>
<circle fill="#2759b0" cx="262.8" cy="568.7" r="2.35"/>
<circle fill="#2759b0" cx="271.4" cy="580.6" r="2.35"/>
<circle fill="#2759b0" cx="273.6" cy="577.4" r="2.35"/>
<circle fill="#2759b0" cx="271.4" cy="569.2" r="2.35"/>
<circle fill="#2759b0" cx="274.2" cy="577.0" r="2.35"/>
<circle fill="#2759b0" cx="265.2" cy="580.6" r="2.35"/>
<circle fill="#2759b0" cx="274.5" cy="579.6" r="2.35"/>
<circle fill="#2759b0" cx="269.5" cy="580.3" r="2.35"/>
<circle fill="#2759b0" cx="264.2" cy="578.4" r="2.35"/>
<circle fill="#2759b0" cx="266.1" cy="580.1" r="2.35"/>
<circle fill="#2759b0" cx="264.4" cy="576.2" r="2.35"/>
<circle fill="#2759b0" cx="274.1" cy="581.4" r="2.35"/>
<circle fill="#2759b0" cx="274.0" cy="582.8" r="2.35"/>
<circle fill="#2759b0" cx="263.0" cy="573.5" r="2.35"/>
<circle fill="#2759b0" cx="282.2" cy="576.9" r="2.35"/>
<circle fill="#2759b0" cx="286.2" cy="577.6" r="2.35"/>
<circle fill="#2759b0" cx="281.0" cy="580.6" r="2.35"/>
<circle fill="#2759b0" cx="285.7" cy="572.7" r="2.35"/>
<circle fill="#2759b0" cx="279.4" cy="575.7" r="2.35"/>
<circle fill="#2759b0" cx="275.9" cy="581.3" r="2.35"/>
<circle fill="#2759b0" cx="279.4" cy="579.7" r="2.35"/>
<circle fill="#2759b0" cx="278.3" cy="571.4" r="2.35"/>
<circle fill="#2759b0" cx="278.7" cy="569.8" r="2.35"/>
<circle fill="#2759b0" cx="279.6" cy="573.0" r="2.35"/>
<circle fill="#2759b0" cx="282.9" cy="576.1" r="2.35"/>
<circle fill="#2759b0" cx="276.6" cy="582.0" r="2.35"/>
<circle fill="#2759b0" cx="236.8" cy="584.6" r="2.35"/>
<circle fill="#2759b0" cx="242.4" cy="587.1" r="2.35"/>
<circle fill="#2759b0" cx="243.6" cy="592.4" r="2.35"/>
<circle fill="#2759b0" cx="237.0" cy="595.0" r="2.35"/>
<circle fill="#2759b0" cx="239.1" cy="590.0" r="2.35"/>
<circle fill="#2759b0" cx="235.8" cy="593.4" r="2.35"/>
<circle fill="#2759b0" cx="241.4" cy="597.8" r="2.35"/>
<circle fill="#2759b0" cx="235.5" cy="585.1" r="2.35"/>
<circle fill="#2759b0" cx="251.8" cy="589.3" r="2.35"/>
<circle fill="#2759b0" cx="248.4" cy="588.2" r="2.35"/>
<circle fill="#2759b0" cx="257.8" cy="592.1" r="2.35"/>
<circle fill="#2759b0" cx="257.5" cy="593.3" r="2.35"/>
<circle fill="#2759b0" cx="255.8" cy="595.5" r="2.35"/>
<circle fill="#2759b0" cx="252.3" cy="596.1" r="2.35"/>
<circle fill="#2759b0" cx="250.9" cy="585.6" r="2.35"/>
<circle fill="#2759b0" cx="256.6" cy="585.8" r="2.35"/>
<circle fill="#2759b0" cx="249.8" cy="583.1" r="2.35"/>
<circle fill="#2759b0" cx="257.1" cy="597.8" r="2.35"/>
<circle fill="#2759b0" cx="254.3" cy="597.0" r="2.35"/>
<circle fill="#2759b0" cx="257.0" cy="592.2" r="2.35"/>
<circle fill="#2759b0" cx="255.7" cy="587.2" r="2.35"/>
<circle fill="#2759b0" cx="258.2" cy="585.2" r="2.35"/>
<circle fill="#2759b0" cx="247.4" cy="595.3" r="2.35"/>
<circle fill="#2759b0" cx="257.3" cy="590.4" r="2.35"/>
<circle fill="#2759b0" cx="256.2" cy="586.8" r="2.35"/>
<circle fill="#2759b0" cx="247.9" cy="584.2" r="2.35"/>
<circle fill="#2759b0" cx="272.5" cy="591.5" r="2.35"/>
<circle fill="#2759b0" cx="261.7" cy="586.1" r="2.35"/>
<circle fill="#2759b0" cx="268.5" cy="590.5" r="2.35"/>
<circle fill="#2759b0" cx="268.9" cy="586.2" r="2.35"/>
<circle fill="#2759b0" cx="262.3" cy="588.0" r="2.35"/>
<circle fill="#2759b0" cx="265.3" cy="588.5" r="2.35"/>
<circle fill="#2759b0" cx="267.1" cy="598.0" r="2.35"/>
<circle fill="#2759b0" cx="262.9" cy="586.6" r="2.35"/>
<circle fill="#2759b0" cx="267.4" cy="595.1" r="2.35"/>
<circle fill="#2759b0" cx="266.9" cy="585.7" r="2.35"/>
<circle fill="#2759b0" cx="263.0" cy="589.4" r="2.35"/>
<circle fill="#2759b0" cx="272.9" cy="586.6" r="2.35"/>
<circle fill="#2759b0" cx="262.2" cy="587.4" r="2.35"/>
<circle fill="#2759b0" cx="273.1" cy="584.9" r="2.35"/>
<circle fill="#2759b0" cx="270.6" cy="591.4" r="2.35"/>
<circle fill="#2759b0" cx="287.0" cy="595.3" r="2.35"/>
<circle fill="#2759b0" cx="281.5" cy="591.4" r="2.35"/>
<circle fill="#2759b0" cx="284.4" cy="589.0" r="2.35"/>
<circle fill="#2759b0" cx="287.4" cy="588.4" r="2.35"/>
<circle fill="#2759b0" cx="283.7" cy="591.0" r="2.35"/>
<circle fill="#2759b0" cx="277.9" cy="590.3" r="2.35"/>
<circle fill="#2759b0" cx="286.5" cy="590.7" r="2.35"/>
<circle fill="#2759b0" cx="286.0" cy="596.1" r="2.35"/>
<circle fill="#2759b0" cx="280.7" cy="583.3" r="2.35"/>
<circle fill="#2759b0" cx="282.5" cy="592.5" r="2.35"/>
<circle fill="#2759b0" cx="276.4" cy="595.2" r="2.35"/>
<circle fill="#2759b0" cx="283.6" cy="590.7" r="2.35"/>
<circle fill="#2759b0" cx="246.7" cy="601.2" r="2.35"/>
<circle fill="#2759b0" cx="235.6" cy="610.7" r="2.35"/>
<circle fill="#2759b0" cx="238.2" cy="607.2" r="2.35"/>
<circle fill="#2759b0" cx="238.4" cy="606.0" r="2.35"/>
<circle fill="#2759b0" cx="242.0" cy="609.8" r="2.35"/>
<circle fill="#2759b0" cx="243.8" cy="603.8" r="2.35"/>
<circle fill="#2759b0" cx="235.2" cy="607.4" r="2.35"/>
<circle fill="#2759b0" cx="260.7" cy="611.7" r="2.35"/>
<circle fill="#2759b0" cx="247.5" cy="608.5" r="2.35"/>
<circle fill="#2759b0" cx="253.7" cy="610.5" r="2.35"/>
<circle fill="#2759b0" cx="253.5" cy="605.6" r="2.35"/>
<circle fill="#2759b0" cx="253.0" cy="599.1" r="2.35"/>
<circle fill="#2759b0" cx="254.8" cy="599.7" r="2.35"/>
<circle fill="#2759b0" cx="258.2" cy="604.8" r="2.35"/>
<circle fill="#2759b0" cx="257.8" cy="599.4" r="2.35"/>
<circle fill="#2759b0" cx="253.3" cy="606.8" r="2.35"/>
<circle fill="#2759b0" cx="247.8" cy="607.9" r="2.35"/>
<circle fill="#2759b0" cx="251.9" cy="601.1" r="2.35"/>
<circle fill="#2759b0" cx="251.6" cy="603.1" r="2.35"/>
<circle fill="#2759b0" cx="260.0" cy="610.5" r="2.35"/>
<circle fill="#2759b0" cx="256.1" cy="612.6" r="2.35"/>
<circle fill="#2759b0" cx="255.0" cy="609.5" r="2.35"/>
<circle fill="#2759b0" cx="260.6" cy="602.5" r="2.35"/>
<circle fill="#2759b0" cx="270.9" cy="610.8" r="2.35"/>
<circle fill="#2759b0" cx="269.1" cy="607.8" r="2.35"/>
<circle fill="#2759b0" cx="267.2" cy="612.9" r="2.35"/>
<circle fill="#2759b0" cx="262.7" cy="605.7" r="2.35"/>
<circle fill="#2759b0" cx="270.9" cy="611.6" r="2.35"/>
<circle fill="#2759b0" cx="271.9" cy="609.3" r="2.35"/>
<circle fill="#2759b0" cx="263.4" cy="607.9" r="2.35"/>
<circle fill="#2759b0" cx="265.2" cy="598.1" r="2.35"/>
<circle fill="#2759b0" cx="264.6" cy="612.4" r="2.35"/>
<circle fill="#2759b0" cx="271.8" cy="601.1" r="2.35"/>
<circle fill="#2759b0" cx="263.5" cy="601.8" r="2.35"/>
<circle fill="#2759b0" cx="270.7" cy="611.6" r="2.35"/>
<circle fill="#2759b0" cx="263.8" cy="610.0" r="2.35"/>
<circle fill="#2759b0" cx="273.3" cy="608.8" r="2.35"/>
<circle fill="#2759b0" cx="269.7" cy="612.0" r="2.35"/>
<circle fill="#2759b0" cx="269.6" cy="606.9" r="2.35"/>
<circle fill="#2759b0" cx="274.6" cy="606.1" r="2.35"/>
<circle fill="#2759b0" cx="280.0" cy="599.2" r="2.35"/>
<circle fill="#2759b0" cx="277.2" cy="612.2" r="2.35"/>
<circle fill="#2759b0" cx="275.8" cy="610.5" r="2.35"/>
<circle fill="#2759b0" cx="281.5" cy="598.1" r="2.35"/>
<circle fill="#2759b0" cx="280.7" cy="606.6" r="2.35"/>
<circle fill="#2759b0" cx="286.3" cy="607.1" r="2.35"/>
<circle fill="#2759b0" cx="275.8" cy="604.1" r="2.35"/>
<circle fill="#2759b0" cx="285.6" cy="603.5" r="2.35"/>
<circle fill="#2759b0" cx="279.1" cy="605.8" r="2.35"/>
<circle fill="#2759b0" cx="285.6" cy="602.6" r="2.35"/>
<circle fill="#2759b0" cx="286.0" cy="611.5" r="2.35"/>
<circle fill="#2759b0" cx="242.6" cy="618.0" r="2.35"/>
<circle fill="#2759b0" cx="238.1" cy="619.7" r="2.35"/>
<circle fill="#2759b0" cx="243.7" cy="620.2" r="2.35"/>
<circle fill="#2759b0" cx="244.0" cy="624.2" r="2.35"/>
<circle fill="#2759b0" cx="237.5" cy="626.0" r="2.35"/>
<circle fill="#2759b0" cx="236.4" cy="624.5" r="2.35"/>
<circle fill="#2759b0" cx="248.5" cy="616.2" r="2.35"/>
<circle fill="#2759b0" cx="260.6" cy="614.6" r="2.35"/>
<circle fill="#2759b0" cx="258.0" cy="623.0" r="2.35"/>
<circle fill="#2759b0" cx="253.5" cy="621.0" r="2.35"/>
<circle fill="#2759b0" cx="253.3" cy="620.5" r="2.35"/>
<circle fill="#2759b0" cx="253.3" cy="624.8" r="2.35"/>
<circle fill="#2759b0" cx="249.3" cy="621.3" r="2.35"/>
<circle fill="#2759b0" cx="252.7" cy="622.7" r="2.35"/>
<circle fill="#2759b0" cx="255.3" cy="621.5" r="2.35"/>
<circle fill="#2759b0" cx="258.4" cy="621.7" r="2.35"/>
<circle fill="#2759b0" cx="257.8" cy="617.6" r="2.35"/>
<circle fill="#2759b0" cx="248.0" cy="614.3" r="2.35"/>
<circle fill="#2759b0" cx="272.8" cy="620.5" r="2.35"/>
<circle fill="#2759b0" cx="271.4" cy="613.6" r="2.35"/>
<circle fill="#2759b0" cx="266.0" cy="623.0" r="2.35"/>
<circle fill="#2759b0" cx="264.5" cy="622.1" r="2.35"/>
<circle fill="#2759b0" cx="262.4" cy="623.7" r="2.35"/>
<circle fill="#2759b0" cx="263.6" cy="623.7" r="2.35"/>
<circle fill="#2759b0" cx="274.7" cy="617.9" r="2.35"/>
<circle fill="#2759b0" cx="273.5" cy="618.0" r="2.35"/>
<circle fill="#2759b0" cx="268.1" cy="619.9" r="2.35"/>
<circle fill="#2759b0" cx="266.8" cy="613.9" r="2.35"/>
<circle fill="#2759b0" cx="262.5" cy="620.7" r="2.35"/>
<circle fill="#2759b0" cx="267.7" cy="622.6" r="2.35"/>
<circle fill="#2759b0" cx="272.9" cy="616.2" r="2.35"/>
<circle fill="#2759b0" cx="284.3" cy="622.6" r="2.35"/>
<circle fill="#2759b0" cx="285.7" cy="613.1" r="2.35"/>
<circle fill="#2759b0" cx="287.4" cy="621.6" r="2.35"/>
<circle fill="#2759b0" cx="283.6" cy="622.4" r="2.35"/>
<circle fill="#2759b0" cx="278.3" cy="625.7" r="2.35"/>
<circle fill="#2759b0" cx="278.1" cy="620.6" r="2.35"/>
<circle fill="#2759b0" cx="284.4" cy="620.6" r="2.35"/>
<circle fill="#2759b0" cx="280.7" cy="624.4" r="2.35"/>
<circle fill="#2759b0" cx="285.6" cy="621.8" r="2.35"/>
<circle fill="#2759b0" cx="283.1" cy="615.5" r="2.35"/>
<circle fill="#2759b0" cx="279.9" cy="613.2" r="2.35"/>
<circle fill="#2759b0" cx="292.2" cy="631.4" r="2.35"/>
<circle fill="#2759b0" cx="297.9" cy="623.9" r="2.35"/>
<circle fill="#2759b0" cx="310.6" cy="609.4" r="2.35"/>
<circle fill="#2759b0" cx="296.3" cy="616.3" r="2.35"/>
<circle fill="#2759b0" cx="301.2" cy="623.2" r="2.35"/>
<circle fill="#2759b0" cx="310.8" cy="609.3" r="2.35"/>
<circle fill="#2759b0" cx="308.7" cy="634.5" r="2.35"/>
<circle fill="#2759b0" cx="298.1" cy="634.4" r="2.35"/>
<circle fill="#2759b0" cx="299.8" cy="613.3" r="2.35"/>
<circle fill="#2759b0" cx="300.1" cy="612.6" r="2.35"/>
<circle fill="#2759b0" cx="257.6" cy="562.1" r="2.35"/>
<circle fill="#2759b0" cx="269.3" cy="555.8" r="2.35"/>
<circle fill="#2759b0" cx="288.9" cy="557.1" r="2.35"/>
<circle fill="#2759b0" cx="257.1" cy="566.2" r="2.35"/>
<circle fill="#2759b0" cx="232.8" cy="569.5" r="2.35"/>
<circle fill="#2759b0" cx="232.8" cy="573.0" r="2.35"/>
<circle fill="#2759b0" cx="232.8" cy="577.4" r="2.35"/>
<circle fill="#2759b0" cx="232.8" cy="581.8" r="2.35"/>
<circle fill="#2759b0" cx="232.8" cy="585.3" r="2.35"/>
<circle fill="#2759b0" cx="232.8" cy="587.9" r="2.35"/>
<circle fill="#2759b0" cx="232.8" cy="597.5" r="2.35"/>
<circle fill="#2759b0" cx="232.8" cy="601.0" r="2.35"/>
<circle fill="#2759b0" cx="232.8" cy="612.4" r="2.35"/>
<circle fill="#2759b0" cx="232.8" cy="616.0" r="2.35"/>
<circle fill="#2759b0" cx="232.8" cy="619.4" r="2.35"/>
<circle fill="#2759b0" cx="232.8" cy="623.0" r="2.35"/>
<line x1="232.40" y1="595.29" x2="511.70" y2="645.26" stroke="#151515" stroke-width="1.5"/>
<text transform="translate(181.20 508.70) scale(0.98 1)" font-size="21.6">E</text>
<text x="259.60" y="514.50" font-size="14.3" stroke="#222" stroke-width="0.2" textLength="118.40" lengthAdjust="spacingAndGlyphs">r=-0.280, p&lt;0.001*</text>
<text x="329.60" y="702.90" font-size="14" stroke="#222" stroke-width="0.2" textLength="85.10" lengthAdjust="spacingAndGlyphs" xml:space="preserve">Social activities</text>
<text transform="translate(199.30 651.40) rotate(-90)" font-size="12.3" stroke="#222" stroke-width="0.2" textLength="114.50" lengthAdjust="spacingAndGlyphs" xml:space="preserve">Total PAQ-C  score</text></g>
</svg>
</body></html>
